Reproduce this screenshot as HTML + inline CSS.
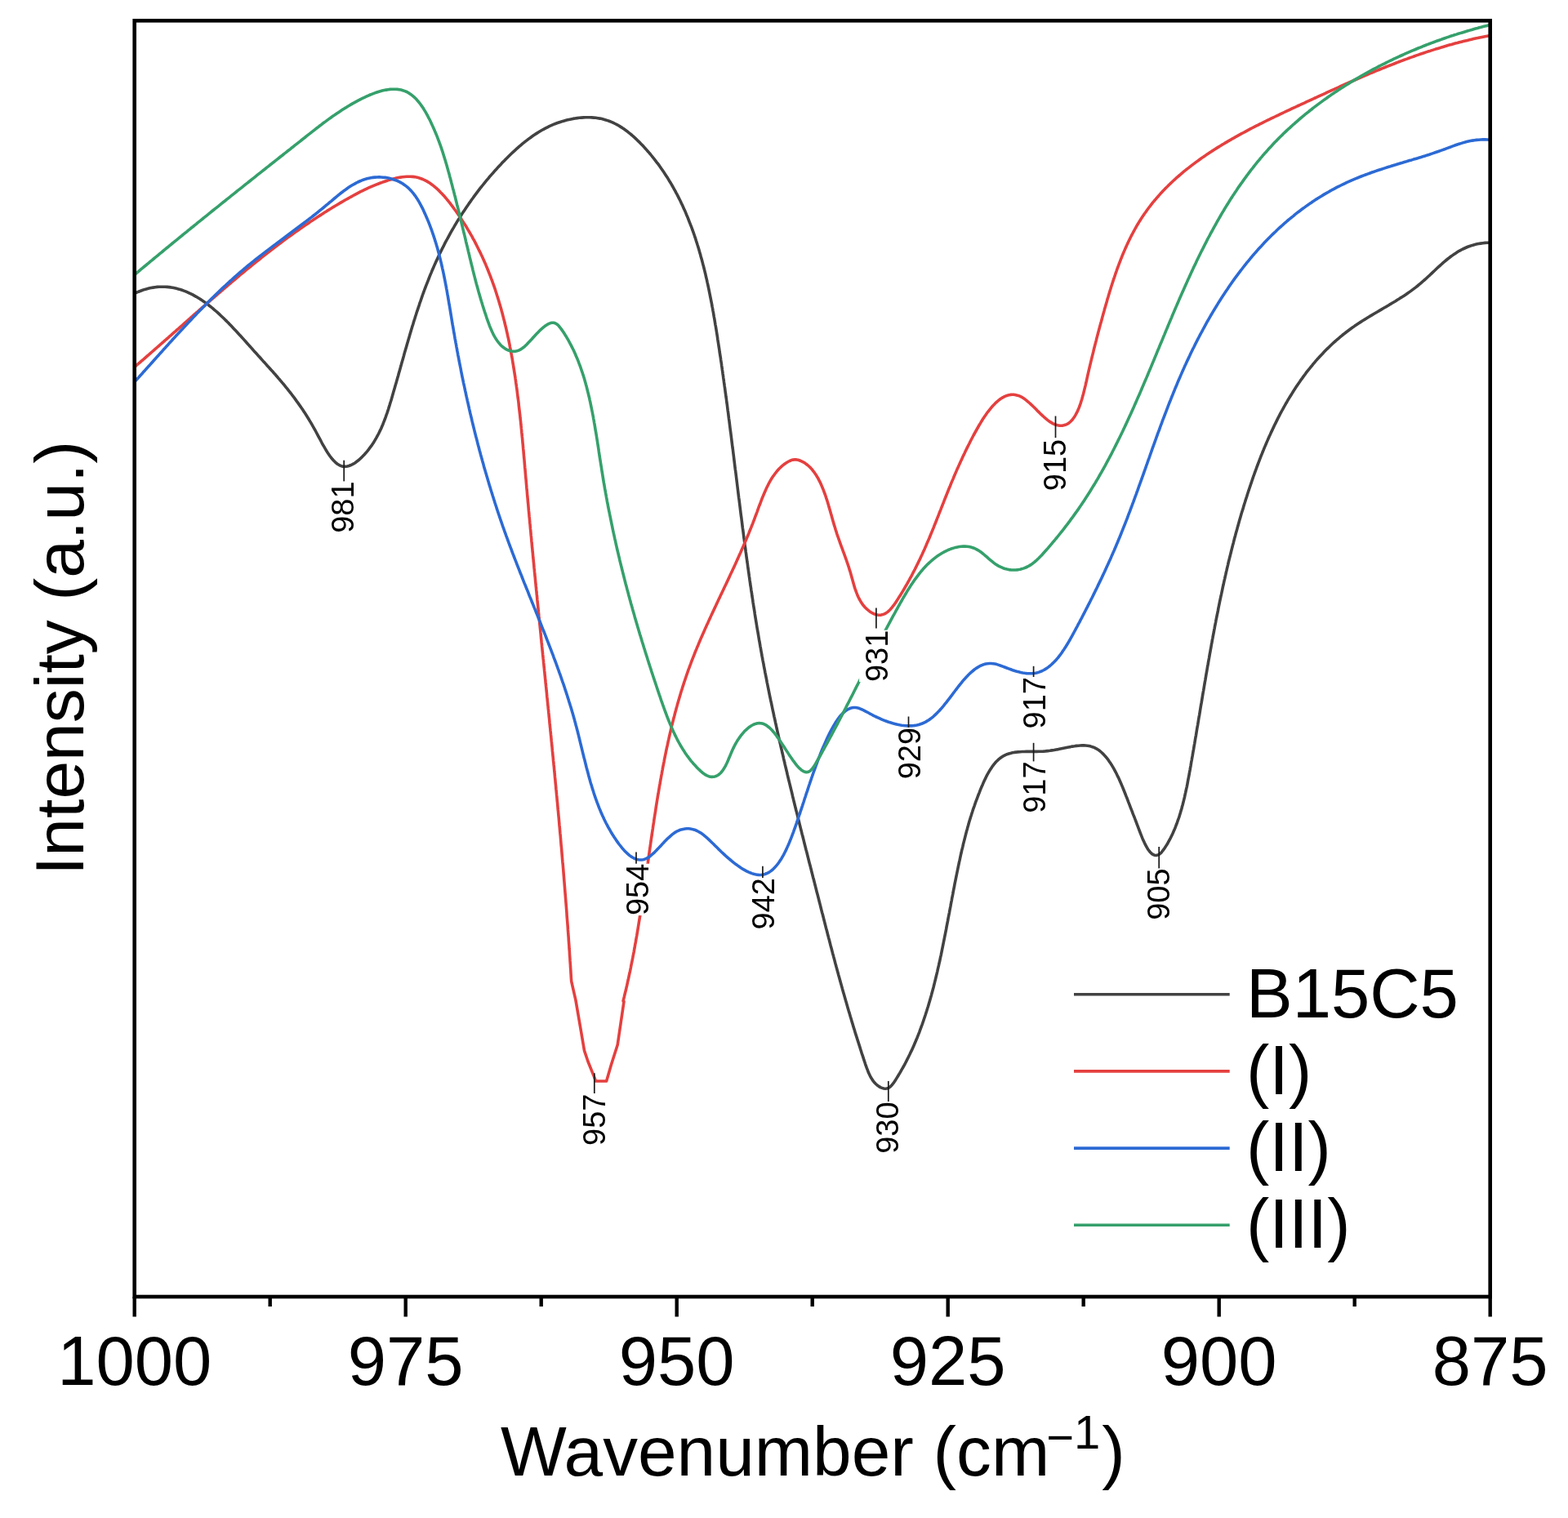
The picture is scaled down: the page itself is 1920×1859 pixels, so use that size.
<!DOCTYPE html>
<html><head><meta charset="utf-8"><title>FTIR spectra</title>
<style>
html,body{margin:0;padding:0;background:#fff;}
body{width:1920px;height:1859px;overflow:hidden;}
svg{display:block;}
#wrap{width:1920px;height:1859px;}
text{font-family:'Liberation Sans', Arial, Helvetica, sans-serif;fill:#000;}
</style></head><body><div id="wrap">
<svg width="1920" height="1859" viewBox="0 0 1920 1859">
<g>
<rect x="0" y="0" width="1920" height="1859" fill="#fff"/>

<defs><clipPath id="pc"><rect x="164.7" y="25.3" width="1660.0" height="1562.7"/></clipPath></defs>
<g clip-path="url(#pc)" fill="none" stroke-linejoin="round" stroke-linecap="round">
<path d="M164.3,359.5 L167.0,358.3 L169.6,357.2 L172.2,356.2 L174.8,355.2 L177.4,354.4 L180.0,353.7 L182.5,353.0 L185.0,352.5 L187.5,352.1 L190.0,351.7 L192.5,351.4 L194.9,351.3 L197.3,351.2 L199.7,351.2 L202.1,351.2 L204.5,351.4 L206.9,351.6 L209.2,351.9 L211.5,352.3 L213.8,352.8 L216.1,353.3 L218.4,353.9 L220.6,354.5 L222.9,355.3 L225.1,356.1 L227.3,356.9 L229.5,357.8 L231.6,358.8 L233.8,359.8 L235.9,360.9 L238.0,362.1 L240.2,363.3 L242.2,364.5 L244.3,365.8 L246.4,367.1 L248.4,368.5 L250.5,369.9 L252.5,371.4 L254.5,372.9 L256.5,374.5 L258.5,376.0 L260.5,377.7 L262.4,379.3 L264.4,381.0 L266.3,382.7 L268.2,384.4 L270.1,386.2 L272.0,388.0 L273.9,389.8 L275.7,391.6 L277.6,393.4 L279.5,395.3 L281.3,397.2 L283.1,399.1 L284.9,401.0 L286.7,402.9 L288.5,404.8 L290.3,406.7 L292.1,408.7 L293.8,410.6 L295.6,412.5 L297.3,414.4 L299.1,416.4 L300.8,418.3 L302.5,420.2 L304.2,422.1 L305.9,424.0 L307.6,425.9 L309.3,427.8 L310.9,429.7 L312.6,431.5 L314.3,433.3 L315.9,435.2 L317.6,437.0 L319.2,438.8 L320.8,440.6 L322.4,442.4 L324.0,444.1 L325.6,445.9 L327.2,447.7 L328.8,449.4 L330.4,451.2 L332.0,453.0 L333.6,454.7 L335.1,456.5 L336.7,458.2 L338.2,460.0 L339.8,461.8 L341.3,463.6 L342.8,465.3 L344.3,467.1 L345.8,468.9 L347.4,470.7 L348.9,472.6 L350.3,474.4 L351.8,476.2 L353.3,478.1 L354.8,480.0 L356.3,481.8 L357.7,483.7 L359.2,485.7 L360.7,487.6 L362.1,489.6 L363.5,491.6 L365.0,493.6 L366.4,495.6 L367.8,497.6 L369.3,499.7 L370.7,501.8 L372.1,504.0 L373.5,506.1 L374.9,508.3 L376.3,510.5 L377.7,512.8 L379.1,515.1 L380.5,517.4 L381.8,519.7 L383.2,522.1 L384.6,524.6 L386.0,527.0 L387.3,529.5 L388.7,532.1 L390.0,534.6 L391.4,537.2 L392.8,539.7 L394.1,542.3 L395.5,544.8 L396.9,547.2 L398.3,549.6 L399.7,552.0 L401.1,554.2 L402.6,556.4 L404.0,558.5 L405.5,560.5 L407.0,562.3 L408.5,564.0 L410.1,565.6 L411.6,567.0 L413.2,568.2 L414.9,569.2 L416.5,570.1 L418.2,570.7 L420.0,571.2 L421.7,571.4 L423.6,571.3 L425.4,571.0 L427.3,570.5 L429.2,569.8 L431.1,568.9 L433.0,567.9 L434.9,566.7 L436.8,565.3 L438.8,563.8 L440.6,562.2 L442.5,560.4 L444.3,558.6 L446.1,556.7 L447.8,554.8 L449.5,552.8 L451.1,550.8 L452.7,548.7 L454.2,546.7 L455.7,544.6 L457.1,542.5 L458.4,540.3 L459.7,538.1 L461.0,535.9 L462.2,533.7 L463.4,531.5 L464.5,529.2 L465.6,526.9 L466.7,524.7 L467.7,522.3 L468.7,520.0 L469.6,517.7 L470.5,515.3 L471.4,513.0 L472.3,510.6 L473.1,508.2 L474.0,505.8 L474.8,503.4 L475.6,501.0 L476.3,498.6 L477.1,496.1 L477.8,493.7 L478.6,491.3 L479.3,488.9 L480.0,486.4 L480.7,484.0 L481.4,481.6 L482.1,479.1 L482.8,476.7 L483.5,474.3 L484.2,471.8 L484.9,469.4 L485.6,467.0 L486.3,464.6 L487.0,462.1 L487.7,459.7 L488.3,457.3 L489.0,454.9 L489.7,452.4 L490.4,450.0 L491.1,447.6 L491.7,445.2 L492.4,442.8 L493.1,440.4 L493.8,437.9 L494.5,435.5 L495.1,433.1 L495.8,430.7 L496.5,428.3 L497.2,425.9 L497.9,423.5 L498.6,421.1 L499.3,418.7 L500.0,416.3 L500.7,413.9 L501.4,411.5 L502.1,409.1 L502.8,406.7 L503.5,404.3 L504.2,402.0 L504.9,399.6 L505.7,397.2 L506.4,394.8 L507.1,392.5 L507.9,390.1 L508.6,387.7 L509.4,385.3 L510.1,383.0 L510.9,380.6 L511.7,378.3 L512.5,375.9 L513.3,373.6 L514.0,371.2 L514.9,368.9 L515.7,366.5 L516.5,364.2 L517.3,361.8 L518.1,359.5 L519.0,357.2 L519.8,354.8 L520.7,352.5 L521.6,350.2 L522.5,347.9 L523.4,345.6 L524.3,343.3 L525.2,341.0 L526.1,338.7 L527.0,336.4 L528.0,334.1 L528.9,331.8 L529.9,329.5 L530.9,327.2 L531.9,324.9 L532.9,322.7 L533.9,320.4 L535.0,318.1 L536.0,315.9 L537.1,313.6 L538.1,311.3 L539.2,309.1 L540.3,306.9 L541.4,304.6 L542.6,302.4 L543.7,300.2 L544.8,297.9 L546.0,295.7 L547.2,293.5 L548.4,291.3 L549.6,289.1 L550.8,286.9 L552.0,284.7 L553.2,282.5 L554.5,280.4 L555.8,278.2 L557.0,276.0 L558.3,273.9 L559.6,271.7 L560.9,269.6 L562.3,267.5 L563.6,265.3 L564.9,263.2 L566.3,261.1 L567.7,259.0 L569.1,256.9 L570.5,254.8 L571.9,252.7 L573.3,250.7 L574.7,248.6 L576.2,246.6 L577.6,244.5 L579.1,242.5 L580.6,240.4 L582.1,238.4 L583.6,236.4 L585.1,234.4 L586.6,232.4 L588.1,230.4 L589.7,228.5 L591.3,226.5 L592.8,224.6 L594.4,222.6 L596.0,220.7 L597.6,218.8 L599.2,216.8 L600.9,214.9 L602.5,213.1 L604.2,211.2 L605.8,209.3 L607.5,207.5 L609.2,205.6 L610.9,203.8 L612.6,202.0 L614.3,200.1 L616.0,198.3 L617.8,196.6 L619.5,194.8 L621.3,193.0 L623.0,191.3 L624.8,189.5 L626.6,187.8 L628.4,186.1 L630.3,184.4 L632.1,182.7 L633.9,181.1 L635.8,179.4 L637.7,177.8 L639.6,176.2 L641.5,174.7 L643.4,173.1 L645.4,171.6 L647.3,170.1 L649.3,168.7 L651.3,167.2 L653.3,165.8 L655.4,164.4 L657.5,163.1 L659.6,161.8 L661.7,160.5 L663.8,159.3 L666.0,158.1 L668.2,156.9 L670.4,155.8 L672.6,154.7 L674.9,153.7 L677.2,152.7 L679.5,151.7 L681.9,150.8 L684.2,150.0 L686.6,149.2 L689.1,148.4 L691.6,147.7 L694.0,147.0 L696.5,146.4 L699.1,145.9 L701.6,145.4 L704.2,145.0 L706.7,144.6 L709.3,144.3 L711.8,144.1 L714.4,143.9 L717.0,143.8 L719.5,143.7 L722.1,143.8 L724.6,143.9 L727.1,144.1 L729.6,144.3 L732.1,144.7 L734.6,145.1 L737.0,145.6 L739.4,146.2 L741.8,146.9 L744.1,147.6 L746.4,148.5 L748.7,149.4 L751.0,150.4 L753.2,151.5 L755.4,152.6 L757.5,153.8 L759.6,155.1 L761.7,156.4 L763.8,157.8 L765.8,159.3 L767.8,160.7 L769.8,162.3 L771.8,163.9 L773.7,165.5 L775.6,167.2 L777.5,168.9 L779.3,170.6 L781.1,172.4 L782.9,174.1 L784.7,176.0 L786.5,177.8 L788.2,179.6 L789.9,181.5 L791.6,183.4 L793.2,185.2 L794.9,187.1 L796.5,189.0 L798.1,191.0 L799.6,192.9 L801.2,194.8 L802.7,196.8 L804.2,198.8 L805.7,200.7 L807.2,202.7 L808.6,204.7 L810.0,206.8 L811.4,208.8 L812.8,210.8 L814.2,212.9 L815.5,214.9 L816.9,217.0 L818.2,219.1 L819.4,221.2 L820.7,223.3 L822.0,225.4 L823.2,227.5 L824.4,229.6 L825.6,231.8 L826.8,233.9 L827.9,236.1 L829.1,238.2 L830.2,240.4 L831.3,242.6 L832.4,244.8 L833.5,247.0 L834.5,249.2 L835.6,251.4 L836.6,253.7 L837.6,255.9 L838.6,258.1 L839.6,260.4 L840.5,262.7 L841.5,264.9 L842.4,267.2 L843.3,269.5 L844.2,271.8 L845.1,274.1 L846.0,276.4 L846.9,278.7 L847.7,281.0 L848.6,283.4 L849.4,285.7 L850.2,288.0 L851.0,290.4 L851.8,292.7 L852.5,295.1 L853.3,297.5 L854.0,299.8 L854.8,302.2 L855.5,304.6 L856.2,307.0 L856.9,309.4 L857.6,311.8 L858.2,314.2 L858.9,316.6 L859.6,319.0 L860.2,321.4 L860.8,323.8 L861.5,326.3 L862.1,328.7 L862.7,331.1 L863.3,333.6 L863.9,336.0 L864.4,338.5 L865.0,340.9 L865.6,343.4 L866.1,345.8 L866.7,348.3 L867.2,350.8 L867.7,353.2 L868.2,355.7 L868.7,358.2 L869.2,360.6 L869.7,363.1 L870.2,365.6 L870.7,368.1 L871.2,370.6 L871.7,373.1 L872.1,375.6 L872.6,378.0 L873.0,380.5 L873.5,383.0 L873.9,385.5 L874.3,388.0 L874.8,390.5 L875.2,393.0 L875.6,395.5 L876.0,398.0 L876.5,400.5 L876.9,403.0 L877.3,405.5 L877.7,408.0 L878.1,410.5 L878.5,413.0 L878.8,415.5 L879.2,418.0 L879.6,420.6 L880.0,423.1 L880.4,425.6 L880.8,428.1 L881.1,430.6 L881.5,433.1 L881.9,435.6 L882.3,438.0 L882.6,440.5 L883.0,443.0 L883.4,445.5 L883.7,448.0 L884.1,450.5 L884.4,453.0 L884.8,455.5 L885.1,458.0 L885.5,460.5 L885.8,463.0 L886.2,465.5 L886.5,468.0 L886.9,470.5 L887.2,473.0 L887.6,475.5 L887.9,477.9 L888.2,480.4 L888.6,482.9 L888.9,485.4 L889.3,487.9 L889.6,490.4 L889.9,492.9 L890.3,495.3 L890.6,497.8 L890.9,500.3 L891.2,502.8 L891.6,505.3 L891.9,507.8 L892.2,510.3 L892.5,512.7 L892.9,515.2 L893.2,517.7 L893.5,520.2 L893.8,522.7 L894.1,525.1 L894.4,527.6 L894.8,530.1 L895.1,532.6 L895.4,535.1 L895.7,537.5 L896.0,540.0 L896.3,542.5 L896.6,545.0 L896.9,547.4 L897.3,549.9 L897.6,552.4 L897.9,554.9 L898.2,557.3 L898.5,559.8 L898.8,562.3 L899.1,564.8 L899.4,567.2 L899.7,569.7 L900.0,572.2 L900.3,574.7 L900.7,577.1 L901.0,579.6 L901.3,582.1 L901.6,584.5 L901.9,587.0 L902.2,589.5 L902.5,591.9 L902.8,594.4 L903.1,596.9 L903.4,599.4 L903.7,601.8 L904.0,604.3 L904.3,606.8 L904.6,609.2 L905.0,611.7 L905.3,614.2 L905.6,616.6 L905.9,619.1 L906.2,621.6 L906.5,624.0 L906.8,626.5 L907.1,629.0 L907.4,631.4 L907.8,633.9 L908.1,636.4 L908.4,638.8 L908.7,641.3 L909.0,643.7 L909.3,646.2 L909.7,648.7 L910.0,651.1 L910.3,653.6 L910.6,656.1 L910.9,658.5 L911.3,661.0 L911.6,663.4 L911.9,665.9 L912.2,668.4 L912.6,670.8 L912.9,673.3 L913.2,675.8 L913.6,678.2 L913.9,680.7 L914.2,683.1 L914.6,685.6 L914.9,688.1 L915.3,690.5 L915.6,693.0 L915.9,695.4 L916.3,697.9 L916.6,700.4 L917.0,702.8 L917.3,705.3 L917.7,707.7 L918.0,710.2 L918.4,712.7 L918.7,715.1 L919.1,717.6 L919.5,720.0 L919.8,722.5 L920.2,724.9 L920.6,727.4 L920.9,729.9 L921.3,732.3 L921.7,734.8 L922.0,737.2 L922.4,739.7 L922.8,742.2 L923.2,744.6 L923.6,747.1 L924.0,749.5 L924.3,752.0 L924.7,754.4 L925.1,756.9 L925.5,759.4 L925.9,761.8 L926.3,764.3 L926.7,766.7 L927.1,769.2 L927.5,771.7 L928.0,774.1 L928.4,776.6 L928.8,779.0 L929.2,781.5 L929.6,783.9 L930.1,786.4 L930.5,788.9 L930.9,791.3 L931.4,793.8 L931.8,796.2 L932.2,798.7 L932.7,801.1 L933.1,803.6 L933.6,806.1 L934.0,808.5 L934.5,811.0 L935.0,813.4 L935.4,815.9 L935.9,818.4 L936.4,820.8 L936.8,823.3 L937.3,825.7 L937.8,828.2 L938.3,830.6 L938.8,833.1 L939.2,835.6 L939.7,838.0 L940.2,840.5 L940.7,842.9 L941.2,845.4 L941.7,847.8 L942.2,850.3 L942.7,852.8 L943.2,855.2 L943.7,857.7 L944.3,860.1 L944.8,862.6 L945.3,865.0 L945.8,867.5 L946.3,870.0 L946.9,872.4 L947.4,874.9 L947.9,877.3 L948.5,879.8 L949.0,882.2 L949.5,884.7 L950.1,887.1 L950.6,889.6 L951.1,892.0 L951.7,894.5 L952.2,897.0 L952.8,899.4 L953.3,901.9 L953.9,904.3 L954.4,906.8 L955.0,909.2 L955.6,911.7 L956.1,914.1 L956.7,916.6 L957.3,919.0 L957.8,921.5 L958.4,923.9 L959.0,926.4 L959.5,928.8 L960.1,931.3 L960.7,933.7 L961.2,936.1 L961.8,938.6 L962.4,941.0 L963.0,943.5 L963.6,945.9 L964.1,948.4 L964.7,950.8 L965.3,953.3 L965.9,955.7 L966.5,958.1 L967.1,960.6 L967.7,963.0 L968.3,965.5 L968.9,967.9 L969.5,970.3 L970.1,972.8 L970.6,975.2 L971.2,977.6 L971.8,980.1 L972.4,982.5 L973.0,985.0 L973.6,987.4 L974.2,989.8 L974.8,992.2 L975.5,994.7 L976.1,997.1 L976.7,999.5 L977.3,1002.0 L977.9,1004.4 L978.5,1006.8 L979.1,1009.3 L979.7,1011.7 L980.3,1014.1 L980.9,1016.5 L981.5,1018.9 L982.1,1021.4 L982.8,1023.8 L983.4,1026.2 L984.0,1028.6 L984.6,1031.1 L985.2,1033.5 L985.8,1035.9 L986.4,1038.3 L987.0,1040.7 L987.7,1043.1 L988.3,1045.5 L988.9,1048.0 L989.5,1050.4 L990.1,1052.8 L990.7,1055.2 L991.3,1057.6 L992.0,1060.0 L992.6,1062.4 L993.2,1064.8 L993.8,1067.2 L994.4,1069.6 L995.0,1072.0 L995.6,1074.4 L996.3,1076.8 L996.9,1079.2 L997.5,1081.6 L998.1,1084.0 L998.7,1086.4 L999.3,1088.8 L999.9,1091.2 L1000.5,1093.6 L1001.2,1096.0 L1001.8,1098.4 L1002.4,1100.8 L1003.0,1103.2 L1003.6,1105.5 L1004.2,1107.9 L1004.8,1110.3 L1005.4,1112.7 L1006.0,1115.1 L1006.6,1117.5 L1007.3,1119.8 L1007.9,1122.2 L1008.5,1124.6 L1009.1,1127.0 L1009.7,1129.4 L1010.3,1131.8 L1010.9,1134.1 L1011.5,1136.5 L1012.2,1138.9 L1012.8,1141.3 L1013.4,1143.7 L1014.0,1146.0 L1014.6,1148.4 L1015.3,1150.8 L1015.9,1153.2 L1016.5,1155.6 L1017.1,1158.0 L1017.8,1160.4 L1018.4,1162.7 L1019.0,1165.1 L1019.6,1167.5 L1020.3,1169.9 L1020.9,1172.3 L1021.6,1174.7 L1022.2,1177.1 L1022.8,1179.5 L1023.5,1181.9 L1024.1,1184.3 L1024.8,1186.7 L1025.4,1189.1 L1026.1,1191.5 L1026.7,1193.9 L1027.4,1196.3 L1028.1,1198.7 L1028.7,1201.1 L1029.4,1203.6 L1030.1,1206.0 L1030.8,1208.4 L1031.4,1210.8 L1032.1,1213.2 L1032.8,1215.7 L1033.5,1218.1 L1034.2,1220.5 L1034.9,1223.0 L1035.6,1225.4 L1036.3,1227.8 L1037.0,1230.3 L1037.7,1232.7 L1038.4,1235.2 L1039.1,1237.6 L1039.9,1240.1 L1040.6,1242.6 L1041.3,1245.0 L1042.1,1247.5 L1042.8,1250.0 L1043.5,1252.4 L1044.3,1254.9 L1045.0,1257.4 L1045.8,1259.9 L1046.6,1262.4 L1047.3,1264.9 L1048.1,1267.4 L1048.9,1269.9 L1049.7,1272.4 L1050.5,1274.9 L1051.3,1277.4 L1052.1,1279.9 L1052.9,1282.4 L1053.7,1285.0 L1054.5,1287.5 L1055.3,1290.1 L1056.2,1292.6 L1057.0,1295.1 L1057.8,1297.7 L1058.7,1300.3 L1059.5,1302.8 L1060.4,1305.4 L1061.3,1307.9 L1062.3,1310.4 L1063.2,1312.9 L1064.3,1315.2 L1065.4,1317.6 L1066.6,1319.8 L1067.9,1321.9 L1069.3,1323.9 L1070.8,1325.8 L1072.5,1327.5 L1074.2,1329.0 L1076.1,1330.4 L1078.1,1331.6 L1080.1,1332.4 L1082.1,1333.0 L1084.0,1333.2 L1085.9,1333.0 L1087.7,1332.4 L1089.4,1331.4 L1090.9,1330.1 L1092.4,1328.5 L1093.8,1326.7 L1095.2,1324.7 L1096.5,1322.7 L1097.8,1320.6 L1099.1,1318.6 L1100.3,1316.5 L1101.6,1314.4 L1102.8,1312.3 L1104.0,1310.2 L1105.2,1308.1 L1106.4,1306.0 L1107.6,1303.9 L1108.7,1301.7 L1109.8,1299.6 L1110.9,1297.4 L1112.0,1295.2 L1113.1,1293.0 L1114.2,1290.8 L1115.2,1288.6 L1116.3,1286.4 L1117.3,1284.2 L1118.3,1282.0 L1119.3,1279.7 L1120.2,1277.5 L1121.2,1275.2 L1122.1,1273.0 L1123.1,1270.7 L1124.0,1268.4 L1124.9,1266.1 L1125.8,1263.8 L1126.6,1261.5 L1127.5,1259.2 L1128.3,1256.9 L1129.2,1254.6 L1130.0,1252.2 L1130.8,1249.9 L1131.6,1247.5 L1132.4,1245.2 L1133.2,1242.8 L1133.9,1240.5 L1134.7,1238.1 L1135.4,1235.7 L1136.2,1233.3 L1136.9,1231.0 L1137.6,1228.6 L1138.3,1226.2 L1139.0,1223.8 L1139.7,1221.3 L1140.4,1218.9 L1141.0,1216.5 L1141.7,1214.1 L1142.3,1211.7 L1143.0,1209.2 L1143.6,1206.8 L1144.2,1204.3 L1144.8,1201.9 L1145.4,1199.5 L1146.0,1197.0 L1146.6,1194.5 L1147.2,1192.1 L1147.8,1189.6 L1148.3,1187.2 L1148.9,1184.7 L1149.5,1182.2 L1150.0,1179.7 L1150.6,1177.3 L1151.1,1174.8 L1151.6,1172.3 L1152.2,1169.8 L1152.7,1167.3 L1153.2,1164.8 L1153.7,1162.4 L1154.2,1159.9 L1154.7,1157.4 L1155.2,1154.9 L1155.7,1152.4 L1156.2,1149.9 L1156.7,1147.4 L1157.2,1144.9 L1157.7,1142.4 L1158.2,1139.9 L1158.7,1137.4 L1159.1,1134.9 L1159.6,1132.4 L1160.1,1129.9 L1160.6,1127.4 L1161.0,1124.9 L1161.5,1122.4 L1162.0,1119.9 L1162.5,1117.5 L1162.9,1115.0 L1163.4,1112.5 L1163.9,1110.0 L1164.3,1107.5 L1164.8,1105.0 L1165.3,1102.5 L1165.7,1100.0 L1166.2,1097.6 L1166.7,1095.1 L1167.1,1092.6 L1167.6,1090.1 L1168.1,1087.7 L1168.6,1085.2 L1169.0,1082.7 L1169.5,1080.3 L1170.0,1077.8 L1170.5,1075.4 L1171.0,1072.9 L1171.5,1070.5 L1172.0,1068.0 L1172.5,1065.6 L1173.0,1063.1 L1173.5,1060.7 L1174.0,1058.3 L1174.5,1055.9 L1175.1,1053.4 L1175.6,1051.0 L1176.1,1048.6 L1176.6,1046.2 L1177.2,1043.8 L1177.7,1041.4 L1178.3,1039.1 L1178.9,1036.7 L1179.4,1034.3 L1180.0,1031.9 L1180.6,1029.6 L1181.2,1027.2 L1181.8,1024.9 L1182.4,1022.5 L1183.0,1020.1 L1183.6,1017.8 L1184.3,1015.5 L1184.9,1013.1 L1185.6,1010.8 L1186.2,1008.4 L1186.9,1006.1 L1187.6,1003.7 L1188.3,1001.4 L1189.1,999.0 L1189.8,996.7 L1190.6,994.3 L1191.3,992.0 L1192.1,989.6 L1193.0,987.3 L1193.8,984.9 L1194.6,982.5 L1195.5,980.2 L1196.4,977.8 L1197.3,975.4 L1198.2,973.0 L1199.2,970.6 L1200.1,968.2 L1201.1,965.7 L1202.1,963.3 L1203.2,960.9 L1204.2,958.4 L1205.3,956.0 L1206.5,953.6 L1207.6,951.3 L1208.8,948.9 L1210.1,946.7 L1211.4,944.4 L1212.7,942.3 L1214.1,940.2 L1215.5,938.1 L1217.0,936.2 L1218.5,934.3 L1220.1,932.6 L1221.8,930.9 L1223.5,929.4 L1225.3,928.0 L1227.1,926.7 L1229.0,925.6 L1231.0,924.6 L1233.1,923.7 L1235.2,923.0 L1237.4,922.4 L1239.7,921.8 L1242.0,921.4 L1244.3,921.1 L1246.7,920.9 L1249.1,920.7 L1251.6,920.5 L1254.1,920.5 L1256.7,920.4 L1259.2,920.4 L1261.8,920.4 L1264.4,920.4 L1267.1,920.4 L1269.7,920.4 L1272.4,920.3 L1275.0,920.2 L1277.7,920.1 L1280.3,919.9 L1282.9,919.6 L1285.6,919.3 L1288.2,918.9 L1290.8,918.5 L1293.4,918.0 L1295.9,917.6 L1298.5,917.0 L1301.0,916.5 L1303.5,916.0 L1306.0,915.5 L1308.5,915.0 L1310.9,914.6 L1313.3,914.1 L1315.7,913.8 L1318.1,913.4 L1320.4,913.2 L1322.7,913.0 L1324.9,912.9 L1327.2,912.9 L1329.4,913.0 L1331.5,913.2 L1333.6,913.6 L1335.7,914.1 L1337.7,914.7 L1339.7,915.4 L1341.6,916.4 L1343.5,917.4 L1345.4,918.6 L1347.2,920.0 L1348.9,921.5 L1350.6,923.1 L1352.3,924.9 L1353.9,926.7 L1355.5,928.7 L1357.1,930.7 L1358.6,932.9 L1360.1,935.1 L1361.5,937.3 L1362.9,939.7 L1364.3,942.1 L1365.6,944.6 L1366.9,947.0 L1368.1,949.6 L1369.4,952.1 L1370.6,954.7 L1371.7,957.3 L1372.8,959.8 L1373.9,962.4 L1375.0,965.0 L1376.0,967.5 L1377.0,970.0 L1378.0,972.5 L1378.9,974.9 L1379.9,977.3 L1380.8,979.6 L1381.6,981.9 L1382.5,984.1 L1383.3,986.2 L1384.1,988.3 L1384.9,990.3 L1385.7,992.3 L1386.5,994.3 L1387.2,996.3 L1388.0,998.4 L1388.9,1000.5 L1389.7,1002.7 L1390.6,1005.0 L1391.5,1007.3 L1392.4,1009.8 L1393.4,1012.4 L1394.4,1015.1 L1395.5,1018.0 L1396.6,1020.9 L1397.8,1023.9 L1399.0,1026.9 L1400.3,1029.8 L1401.6,1032.6 L1403.0,1035.3 L1404.4,1037.9 L1405.8,1040.2 L1407.3,1042.3 L1408.8,1044.0 L1410.3,1045.4 L1411.9,1046.5 L1413.5,1047.2 L1415.1,1047.5 L1416.7,1047.4 L1418.2,1046.9 L1419.7,1046.0 L1421.1,1044.9 L1422.5,1043.4 L1423.9,1041.7 L1425.2,1039.9 L1426.5,1038.0 L1427.7,1036.1 L1428.9,1034.2 L1430.1,1032.2 L1431.2,1030.2 L1432.3,1028.1 L1433.4,1026.1 L1434.4,1024.0 L1435.4,1021.9 L1436.4,1019.8 L1437.3,1017.6 L1438.3,1015.4 L1439.2,1013.2 L1440.0,1011.0 L1440.9,1008.8 L1441.7,1006.5 L1442.5,1004.2 L1443.3,1002.0 L1444.1,999.6 L1444.8,997.3 L1445.5,995.0 L1446.2,992.6 L1446.9,990.2 L1447.5,987.8 L1448.2,985.4 L1448.8,983.0 L1449.4,980.6 L1450.0,978.1 L1450.6,975.7 L1451.1,973.2 L1451.7,970.7 L1452.2,968.2 L1452.7,965.8 L1453.3,963.3 L1453.8,960.8 L1454.3,958.2 L1454.7,955.7 L1455.2,953.2 L1455.7,950.7 L1456.2,948.2 L1456.6,945.6 L1457.1,943.1 L1457.5,940.6 L1458.0,938.1 L1458.4,935.5 L1458.8,933.0 L1459.3,930.5 L1459.7,928.0 L1460.2,925.4 L1460.6,922.9 L1461.0,920.4 L1461.5,917.9 L1461.9,915.4 L1462.3,912.8 L1462.8,910.3 L1463.2,907.8 L1463.6,905.3 L1464.0,902.8 L1464.5,900.3 L1464.9,897.8 L1465.3,895.3 L1465.7,892.8 L1466.1,890.3 L1466.6,887.8 L1467.0,885.3 L1467.4,882.8 L1467.8,880.3 L1468.2,877.8 L1468.7,875.3 L1469.1,872.8 L1469.5,870.3 L1469.9,867.8 L1470.3,865.3 L1470.7,862.9 L1471.2,860.4 L1471.6,857.9 L1472.0,855.4 L1472.4,852.9 L1472.8,850.4 L1473.2,848.0 L1473.7,845.5 L1474.1,843.0 L1474.5,840.5 L1474.9,838.1 L1475.3,835.6 L1475.8,833.1 L1476.2,830.6 L1476.6,828.2 L1477.0,825.7 L1477.5,823.2 L1477.9,820.8 L1478.3,818.3 L1478.7,815.9 L1479.2,813.4 L1479.6,810.9 L1480.0,808.5 L1480.5,806.0 L1480.9,803.6 L1481.3,801.1 L1481.8,798.7 L1482.2,796.2 L1482.7,793.7 L1483.1,791.3 L1483.5,788.8 L1484.0,786.4 L1484.4,783.9 L1484.9,781.5 L1485.3,779.1 L1485.8,776.6 L1486.3,774.2 L1486.7,771.7 L1487.2,769.3 L1487.6,766.8 L1488.1,764.4 L1488.6,762.0 L1489.0,759.5 L1489.5,757.1 L1490.0,754.7 L1490.5,752.2 L1491.0,749.8 L1491.5,747.4 L1491.9,744.9 L1492.4,742.5 L1492.9,740.1 L1493.4,737.6 L1493.9,735.2 L1494.4,732.8 L1494.9,730.4 L1495.5,727.9 L1496.0,725.5 L1496.5,723.1 L1497.0,720.7 L1497.5,718.2 L1498.1,715.8 L1498.6,713.4 L1499.1,711.0 L1499.7,708.6 L1500.2,706.1 L1500.8,703.7 L1501.3,701.3 L1501.9,698.9 L1502.4,696.5 L1503.0,694.1 L1503.6,691.6 L1504.1,689.2 L1504.7,686.8 L1505.3,684.4 L1505.9,682.0 L1506.5,679.6 L1507.1,677.2 L1507.7,674.8 L1508.3,672.4 L1508.9,670.0 L1509.5,667.6 L1510.2,665.2 L1510.8,662.7 L1511.4,660.3 L1512.0,657.9 L1512.7,655.5 L1513.3,653.1 L1514.0,650.7 L1514.7,648.3 L1515.3,645.9 L1516.0,643.5 L1516.7,641.1 L1517.3,638.7 L1518.0,636.3 L1518.7,633.9 L1519.4,631.5 L1520.1,629.1 L1520.8,626.8 L1521.6,624.4 L1522.3,622.0 L1523.0,619.6 L1523.7,617.2 L1524.5,614.8 L1525.2,612.4 L1526.0,610.0 L1526.8,607.6 L1527.5,605.2 L1528.3,602.8 L1529.1,600.4 L1529.9,598.0 L1530.7,595.7 L1531.5,593.3 L1532.3,590.9 L1533.1,588.5 L1533.9,586.1 L1534.7,583.7 L1535.6,581.4 L1536.4,579.0 L1537.3,576.6 L1538.2,574.2 L1539.0,571.9 L1539.9,569.5 L1540.8,567.1 L1541.7,564.8 L1542.6,562.4 L1543.5,560.1 L1544.4,557.7 L1545.4,555.4 L1546.3,553.0 L1547.3,550.7 L1548.2,548.4 L1549.2,546.1 L1550.2,543.7 L1551.2,541.4 L1552.2,539.1 L1553.2,536.8 L1554.2,534.5 L1555.3,532.2 L1556.3,529.9 L1557.4,527.6 L1558.4,525.4 L1559.5,523.1 L1560.6,520.8 L1561.7,518.6 L1562.8,516.4 L1563.9,514.1 L1565.0,511.9 L1566.2,509.7 L1567.3,507.4 L1568.5,505.2 L1569.7,503.0 L1570.9,500.9 L1572.1,498.7 L1573.3,496.5 L1574.5,494.3 L1575.8,492.2 L1577.0,490.0 L1578.3,487.9 L1579.6,485.8 L1580.9,483.7 L1582.2,481.6 L1583.5,479.5 L1584.8,477.4 L1586.2,475.3 L1587.5,473.3 L1588.9,471.2 L1590.3,469.2 L1591.7,467.2 L1593.1,465.1 L1594.6,463.1 L1596.0,461.1 L1597.5,459.2 L1598.9,457.2 L1600.4,455.2 L1601.9,453.3 L1603.5,451.4 L1605.0,449.5 L1606.6,447.6 L1608.1,445.7 L1609.7,443.8 L1611.3,441.9 L1612.9,440.1 L1614.6,438.3 L1616.2,436.5 L1617.9,434.7 L1619.6,432.9 L1621.3,431.1 L1623.0,429.3 L1624.7,427.6 L1626.5,425.9 L1628.2,424.2 L1630.0,422.5 L1631.8,420.8 L1633.6,419.1 L1635.5,417.5 L1637.3,415.9 L1639.2,414.3 L1641.1,412.7 L1643.0,411.1 L1644.9,409.5 L1646.9,408.0 L1648.8,406.5 L1650.8,405.0 L1652.8,403.5 L1654.8,402.0 L1656.9,400.6 L1658.9,399.1 L1661.0,397.7 L1663.1,396.3 L1665.2,394.9 L1667.3,393.6 L1669.4,392.2 L1671.6,390.9 L1673.8,389.5 L1675.9,388.2 L1678.1,386.9 L1680.3,385.6 L1682.5,384.3 L1684.7,383.0 L1686.9,381.7 L1689.1,380.4 L1691.3,379.1 L1693.5,377.8 L1695.7,376.5 L1697.9,375.3 L1700.1,374.0 L1702.3,372.6 L1704.5,371.3 L1706.7,370.0 L1708.9,368.7 L1711.0,367.3 L1713.2,366.0 L1715.3,364.6 L1717.5,363.3 L1719.6,361.9 L1721.7,360.5 L1723.8,359.0 L1725.8,357.6 L1727.9,356.1 L1729.9,354.6 L1731.9,353.1 L1733.9,351.6 L1735.9,350.0 L1737.8,348.4 L1739.7,346.8 L1741.6,345.2 L1743.5,343.5 L1745.4,341.9 L1747.2,340.2 L1749.0,338.5 L1750.9,336.8 L1752.7,335.1 L1754.5,333.4 L1756.3,331.7 L1758.1,330.0 L1759.9,328.3 L1761.7,326.6 L1763.6,325.0 L1765.4,323.3 L1767.2,321.7 L1769.1,320.1 L1771.0,318.5 L1772.8,317.0 L1774.8,315.5 L1776.7,314.0 L1778.7,312.6 L1780.7,311.2 L1782.7,309.9 L1784.7,308.6 L1786.8,307.3 L1789.0,306.2 L1791.2,305.0 L1793.4,304.0 L1795.6,303.0 L1797.9,302.0 L1800.3,301.2 L1802.7,300.4 L1805.2,299.7 L1807.7,299.1 L1810.3,298.5 L1813.0,298.1 L1815.7,297.7 L1818.5,297.4 L1821.3,297.3 L1824.2,297.2" stroke="#424242" stroke-width="3.6"/>
<path d="M165.5,448.8 L167.4,447.1 L169.4,445.4 L171.3,443.8 L173.2,442.1 L175.2,440.5 L177.1,438.8 L179.0,437.1 L180.9,435.5 L182.8,433.8 L184.7,432.2 L186.6,430.5 L188.5,428.8 L190.4,427.2 L192.3,425.5 L194.2,423.8 L196.1,422.2 L198.0,420.5 L199.9,418.9 L201.8,417.2 L203.7,415.5 L205.6,413.9 L207.4,412.2 L209.3,410.6 L211.2,408.9 L213.1,407.2 L215.0,405.6 L216.8,403.9 L218.7,402.3 L220.6,400.6 L222.4,399.0 L224.3,397.3 L226.2,395.6 L228.0,394.0 L229.9,392.3 L231.8,390.7 L233.6,389.0 L235.5,387.4 L237.4,385.7 L239.2,384.1 L241.1,382.5 L243.0,380.8 L244.8,379.2 L246.7,377.5 L248.6,375.9 L250.4,374.3 L252.3,372.6 L254.1,371.0 L256.0,369.4 L257.9,367.7 L259.7,366.1 L261.6,364.5 L263.5,362.9 L265.3,361.3 L267.2,359.6 L269.1,358.0 L271.0,356.4 L272.8,354.8 L274.7,353.2 L276.6,351.6 L278.5,350.0 L280.3,348.4 L282.2,346.8 L284.1,345.2 L286.0,343.6 L287.9,342.0 L289.8,340.4 L291.7,338.8 L293.5,337.2 L295.4,335.7 L297.3,334.1 L299.2,332.5 L301.1,330.9 L303.0,329.4 L305.0,327.8 L306.9,326.3 L308.8,324.7 L310.7,323.1 L312.6,321.6 L314.5,320.0 L316.5,318.5 L318.4,317.0 L320.3,315.4 L322.3,313.9 L324.2,312.4 L326.2,310.8 L328.1,309.3 L330.1,307.8 L332.0,306.3 L334.0,304.8 L335.9,303.3 L337.9,301.8 L339.9,300.3 L341.9,298.8 L343.9,297.3 L345.8,295.8 L347.8,294.4 L349.8,292.9 L351.8,291.4 L353.8,289.9 L355.9,288.5 L357.9,287.0 L359.9,285.6 L361.9,284.1 L364.0,282.7 L366.0,281.3 L368.0,279.8 L370.1,278.4 L372.1,277.0 L374.2,275.6 L376.3,274.2 L378.4,272.7 L380.4,271.3 L382.5,270.0 L384.6,268.6 L386.7,267.2 L388.8,265.8 L390.9,264.4 L393.1,263.1 L395.2,261.7 L397.3,260.3 L399.5,259.0 L401.6,257.6 L403.8,256.3 L405.9,255.0 L408.1,253.6 L410.3,252.3 L412.5,251.0 L414.6,249.7 L416.8,248.4 L419.1,247.1 L421.3,245.8 L423.5,244.5 L425.7,243.3 L428.0,242.0 L430.2,240.8 L432.5,239.5 L434.7,238.3 L437.0,237.1 L439.3,235.9 L441.6,234.7 L443.9,233.6 L446.3,232.4 L448.6,231.3 L451.0,230.2 L453.3,229.2 L455.7,228.1 L458.1,227.1 L460.5,226.1 L462.9,225.2 L465.3,224.3 L467.8,223.4 L470.3,222.5 L472.7,221.7 L475.2,220.9 L477.7,220.1 L480.3,219.4 L482.8,218.7 L485.3,218.1 L487.9,217.6 L490.4,217.1 L492.9,216.8 L495.4,216.5 L497.9,216.3 L500.3,216.2 L502.7,216.2 L505.1,216.4 L507.4,216.6 L509.7,217.1 L511.9,217.6 L514.1,218.2 L516.3,219.0 L518.4,219.9 L520.5,220.8 L522.5,221.9 L524.5,223.1 L526.4,224.3 L528.4,225.7 L530.3,227.1 L532.1,228.6 L533.9,230.1 L535.7,231.7 L537.5,233.4 L539.2,235.2 L540.9,236.9 L542.6,238.8 L544.3,240.6 L545.9,242.5 L547.5,244.5 L549.1,246.4 L550.7,248.4 L552.2,250.4 L553.7,252.4 L555.2,254.4 L556.7,256.5 L558.2,258.5 L559.6,260.5 L561.1,262.6 L562.5,264.6 L563.9,266.7 L565.2,268.8 L566.6,270.9 L567.9,273.0 L569.3,275.0 L570.6,277.2 L571.9,279.3 L573.1,281.4 L574.4,283.5 L575.6,285.6 L576.9,287.8 L578.1,289.9 L579.2,292.1 L580.4,294.2 L581.6,296.4 L582.7,298.6 L583.8,300.8 L584.9,303.0 L586.0,305.2 L587.1,307.4 L588.2,309.6 L589.2,311.8 L590.3,314.0 L591.3,316.2 L592.3,318.5 L593.3,320.7 L594.3,322.9 L595.2,325.2 L596.2,327.5 L597.1,329.7 L598.0,332.0 L598.9,334.3 L599.8,336.6 L600.7,338.8 L601.5,341.1 L602.4,343.4 L603.2,345.7 L604.1,348.1 L604.9,350.4 L605.7,352.7 L606.5,355.0 L607.2,357.3 L608.0,359.7 L608.7,362.0 L609.5,364.4 L610.2,366.7 L610.9,369.1 L611.6,371.4 L612.3,373.8 L613.0,376.2 L613.7,378.5 L614.3,380.9 L615.0,383.3 L615.6,385.7 L616.2,388.1 L616.8,390.5 L617.5,392.9 L618.0,395.3 L618.6,397.7 L619.2,400.1 L619.8,402.5 L620.3,405.0 L620.9,407.4 L621.4,409.8 L621.9,412.2 L622.5,414.7 L623.0,417.1 L623.5,419.6 L624.0,422.0 L624.4,424.5 L624.9,426.9 L625.4,429.4 L625.8,431.8 L626.3,434.3 L626.7,436.7 L627.2,439.2 L627.6,441.7 L628.0,444.2 L628.4,446.6 L628.8,449.1 L629.2,451.6 L629.6,454.1 L630.0,456.6 L630.4,459.1 L630.8,461.5 L631.1,464.0 L631.5,466.5 L631.8,469.0 L632.2,471.5 L632.5,474.0 L632.9,476.5 L633.2,479.0 L633.5,481.6 L633.8,484.1 L634.1,486.6 L634.5,489.1 L634.8,491.6 L635.1,494.1 L635.3,496.6 L635.6,499.2 L635.9,501.7 L636.2,504.2 L636.5,506.7 L636.8,509.2 L637.0,511.8 L637.3,514.3 L637.6,516.8 L637.8,519.3 L638.1,521.9 L638.3,524.4 L638.6,526.9 L638.8,529.5 L639.1,532.0 L639.3,534.5 L639.6,537.0 L639.8,539.6 L640.0,542.1 L640.3,544.6 L640.5,547.2 L640.7,549.7 L641.0,552.2 L641.2,554.8 L641.4,557.3 L641.6,559.8 L641.9,562.4 L642.1,564.9 L642.3,567.4 L642.5,569.9 L642.7,572.5 L643.0,575.0 L643.2,577.5 L643.4,580.1 L643.6,582.6 L643.8,585.1 L644.1,587.6 L644.3,590.2 L644.5,592.7 L644.7,595.2 L644.9,597.7 L645.2,600.2 L645.4,602.7 L645.6,605.3 L645.8,607.8 L646.1,610.3 L646.3,612.8 L646.5,615.3 L646.8,617.8 L647.0,620.3 L647.2,622.8 L647.4,625.4 L647.7,627.9 L647.9,630.4 L648.1,632.9 L648.4,635.4 L648.6,637.9 L648.8,640.4 L649.1,642.9 L649.3,645.4 L649.5,647.9 L649.8,650.4 L650.0,652.9 L650.2,655.4 L650.5,657.9 L650.7,660.4 L650.9,662.9 L651.2,665.4 L651.4,667.8 L651.6,670.3 L651.9,672.8 L652.1,675.3 L652.4,677.8 L652.6,680.3 L652.8,682.8 L653.1,685.3 L653.3,687.8 L653.6,690.2 L653.8,692.7 L654.0,695.2 L654.3,697.7 L654.5,700.2 L654.8,702.7 L655.0,705.1 L655.3,707.6 L655.5,710.1 L655.7,712.6 L656.0,715.1 L656.2,717.5 L656.5,720.0 L656.7,722.5 L657.0,725.0 L657.2,727.5 L657.5,729.9 L657.7,732.4 L657.9,734.9 L658.2,737.4 L658.4,739.8 L658.7,742.3 L658.9,744.8 L659.2,747.2 L659.4,749.7 L659.7,752.2 L659.9,754.7 L660.2,757.1 L660.4,759.6 L660.7,762.1 L660.9,764.5 L661.2,767.0 L661.4,769.5 L661.7,771.9 L661.9,774.4 L662.2,776.9 L662.4,779.3 L662.6,781.8 L662.9,784.3 L663.1,786.7 L663.4,789.2 L663.6,791.7 L663.9,794.1 L664.1,796.6 L664.4,799.1 L664.6,801.5 L664.9,804.0 L665.1,806.4 L665.4,808.9 L665.6,811.4 L665.9,813.8 L666.1,816.3 L666.4,818.8 L666.6,821.2 L666.9,823.7 L667.1,826.1 L667.4,828.6 L667.6,831.1 L667.9,833.5 L668.1,836.0 L668.4,838.5 L668.6,840.9 L668.9,843.4 L669.1,845.8 L669.4,848.3 L669.6,850.8 L669.8,853.2 L670.1,855.7 L670.3,858.1 L670.6,860.6 L670.8,863.1 L671.1,865.5 L671.3,868.0 L671.6,870.4 L671.8,872.9 L672.1,875.4 L672.3,877.8 L672.6,880.3 L672.8,882.7 L673.0,885.2 L673.3,887.7 L673.5,890.1 L673.8,892.6 L674.0,895.0 L674.3,897.5 L674.5,900.0 L674.8,902.4 L675.0,904.9 L675.2,907.4 L675.5,909.8 L675.7,912.3 L676.0,914.7 L676.2,917.2 L676.4,919.7 L676.7,922.1 L676.9,924.6 L677.2,927.1 L677.4,929.5 L677.6,932.0 L677.9,934.4 L678.1,936.9 L678.4,939.4 L678.6,941.8 L678.8,944.3 L679.1,946.8 L679.3,949.2 L679.5,951.7 L679.8,954.2 L680.0,956.6 L680.2,959.1 L680.5,961.6 L680.7,964.0 L680.9,966.5 L681.2,969.0 L681.4,971.4 L681.6,973.9 L681.9,976.4 L682.1,978.9 L682.3,981.3 L682.6,983.8 L682.8,986.3 L683.0,988.7 L683.2,991.2 L683.5,993.7 L683.7,996.2 L683.9,998.6 L684.2,1001.1 L684.4,1003.6 L684.6,1006.1 L684.8,1008.5 L685.0,1011.0 L685.3,1013.5 L685.5,1016.0 L685.7,1018.5 L685.9,1020.9 L686.2,1023.4 L686.4,1025.9 L686.6,1028.4 L686.8,1030.9 L687.0,1033.4 L687.2,1035.8 L687.5,1038.3 L687.7,1040.8 L687.9,1043.3 L688.1,1045.8 L688.3,1048.3 L688.5,1050.8 L688.7,1053.3 L688.9,1055.7 L689.2,1058.2 L689.4,1060.7 L689.6,1063.2 L689.8,1065.7 L690.0,1068.2 L690.2,1070.7 L690.4,1073.2 L690.6,1075.7 L690.8,1078.2 L691.0,1080.7 L691.2,1083.2 L691.4,1085.7 L691.6,1088.2 L691.8,1090.7 L692.0,1093.2 L692.2,1095.7 L692.4,1098.2 L692.6,1100.7 L692.8,1103.2 L693.0,1105.7 L693.2,1108.2 L693.4,1110.7 L693.6,1113.3 L693.8,1115.8 L694.0,1118.3 L694.1,1120.8 L694.3,1123.3 L694.5,1125.8 L694.7,1128.3 L694.9,1130.9 L695.1,1133.4 L695.3,1135.9 L695.4,1138.4 L695.6,1140.9 L695.8,1143.5 L696.0,1146.0 L696.2,1148.5 L696.3,1151.0 L696.5,1153.6 L696.7,1156.1 L696.9,1158.6 L697.0,1161.2 L697.2,1163.7 L697.4,1166.2 L697.5,1168.8 L697.7,1171.3 L697.9,1173.8 L698.0,1176.4 L698.2,1178.9 L698.4,1181.5 L698.5,1184.0 L698.7,1186.6 L698.9,1189.1 L699.0,1191.6 L699.2,1194.2 L699.3,1196.7 L699.5,1199.3 L699.7,1201.8 L704.9,1224.6 L711.5,1263.0 L715.5,1286.6 L720.0,1300.0 L727.1,1317.6 L729.5,1324.0 L742.6,1324.0 L748.4,1304.0 L756.2,1279.5 L764.0,1226.5 L763.1,1225.8 L763.7,1223.4 L764.3,1221.0 L764.8,1218.7 L765.4,1216.3 L766.0,1213.9 L766.6,1211.5 L767.1,1209.1 L767.7,1206.7 L768.2,1204.3 L768.7,1201.9 L769.3,1199.5 L769.8,1197.1 L770.3,1194.7 L770.8,1192.3 L771.4,1189.9 L771.9,1187.5 L772.4,1185.0 L772.8,1182.6 L773.3,1180.2 L773.8,1177.8 L774.3,1175.4 L774.8,1172.9 L775.2,1170.5 L775.7,1168.1 L776.2,1165.6 L776.6,1163.2 L777.1,1160.7 L777.5,1158.3 L777.9,1155.8 L778.4,1153.4 L778.8,1150.9 L779.2,1148.5 L779.7,1146.0 L780.1,1143.6 L780.5,1141.1 L780.9,1138.7 L781.3,1136.2 L781.7,1133.8 L782.1,1131.3 L782.5,1128.8 L782.9,1126.4 L783.3,1123.9 L783.7,1121.4 L784.1,1118.9 L784.5,1116.5 L784.9,1114.0 L785.3,1111.5 L785.6,1109.0 L786.0,1106.6 L786.4,1104.1 L786.8,1101.6 L787.1,1099.1 L787.5,1096.7 L787.9,1094.2 L788.2,1091.7 L788.6,1089.2 L789.0,1086.7 L789.3,1084.2 L789.7,1081.7 L790.1,1079.3 L790.4,1076.8 L790.8,1074.3 L791.1,1071.8 L791.5,1069.3 L791.8,1066.8 L792.2,1064.3 L792.6,1061.8 L792.9,1059.3 L793.3,1056.8 L793.6,1054.4 L794.0,1051.9 L794.3,1049.4 L794.7,1046.9 L795.0,1044.4 L795.4,1041.9 L795.7,1039.4 L796.1,1036.9 L796.5,1034.4 L796.8,1031.9 L797.2,1029.4 L797.5,1026.9 L797.9,1024.4 L798.3,1021.9 L798.6,1019.5 L799.0,1017.0 L799.4,1014.5 L799.7,1012.0 L800.1,1009.5 L800.5,1007.0 L800.8,1004.5 L801.2,1002.0 L801.6,999.5 L802.0,997.0 L802.4,994.6 L802.8,992.1 L803.1,989.6 L803.5,987.1 L803.9,984.6 L804.3,982.1 L804.7,979.7 L805.1,977.2 L805.5,974.7 L806.0,972.2 L806.4,969.7 L806.8,967.3 L807.2,964.8 L807.6,962.3 L808.1,959.9 L808.5,957.4 L808.9,954.9 L809.4,952.4 L809.8,950.0 L810.3,947.5 L810.7,945.1 L811.2,942.6 L811.6,940.1 L812.1,937.7 L812.6,935.2 L813.1,932.8 L813.5,930.3 L814.0,927.9 L814.5,925.4 L815.0,923.0 L815.5,920.5 L816.0,918.1 L816.5,915.6 L817.1,913.2 L817.6,910.8 L818.1,908.3 L818.7,905.9 L819.2,903.5 L819.8,901.0 L820.3,898.6 L820.9,896.2 L821.5,893.8 L822.0,891.4 L822.6,888.9 L823.2,886.5 L823.8,884.1 L824.4,881.7 L825.0,879.3 L825.7,876.9 L826.3,874.5 L826.9,872.1 L827.6,869.7 L828.2,867.3 L828.9,864.9 L829.5,862.6 L830.2,860.2 L830.9,857.8 L831.6,855.4 L832.3,853.1 L833.0,850.7 L833.7,848.3 L834.4,846.0 L835.2,843.6 L835.9,841.2 L836.7,838.9 L837.4,836.6 L838.2,834.2 L839.0,831.9 L839.8,829.5 L840.6,827.2 L841.4,824.9 L842.2,822.5 L843.0,820.2 L843.9,817.9 L844.7,815.6 L845.6,813.3 L846.4,811.0 L847.3,808.7 L848.2,806.4 L849.1,804.1 L850.0,801.8 L850.9,799.5 L851.8,797.2 L852.8,794.9 L853.7,792.6 L854.7,790.4 L855.6,788.1 L856.6,785.8 L857.5,783.5 L858.5,781.3 L859.5,779.0 L860.5,776.7 L861.5,774.5 L862.5,772.2 L863.5,769.9 L864.5,767.7 L865.5,765.4 L866.6,763.2 L867.6,760.9 L868.6,758.7 L869.7,756.4 L870.7,754.1 L871.7,751.9 L872.8,749.6 L873.8,747.4 L874.9,745.1 L876.0,742.9 L877.0,740.6 L878.1,738.4 L879.1,736.1 L880.2,733.8 L881.3,731.6 L882.3,729.3 L883.4,727.1 L884.5,724.8 L885.6,722.5 L886.6,720.3 L887.7,718.0 L888.8,715.7 L889.9,713.4 L890.9,711.2 L892.0,708.9 L893.1,706.6 L894.1,704.3 L895.2,702.0 L896.3,699.7 L897.3,697.5 L898.4,695.2 L899.5,692.9 L900.5,690.6 L901.6,688.2 L902.6,685.9 L903.7,683.6 L904.7,681.3 L905.7,679.0 L906.8,676.7 L907.8,674.3 L908.8,672.0 L909.9,669.6 L910.9,667.3 L911.9,664.9 L912.9,662.6 L913.9,660.2 L914.9,657.9 L915.9,655.5 L916.9,653.1 L917.8,650.7 L918.8,648.3 L919.8,645.9 L920.7,643.5 L921.7,641.1 L922.6,638.7 L923.5,636.3 L924.4,633.8 L925.3,631.4 L926.3,629.0 L927.2,626.5 L928.0,624.1 L928.9,621.6 L929.8,619.2 L930.8,616.8 L931.7,614.3 L932.6,611.9 L933.5,609.5 L934.5,607.2 L935.5,604.8 L936.5,602.5 L937.5,600.2 L938.5,597.9 L939.6,595.7 L940.7,593.5 L941.8,591.3 L943.0,589.2 L944.2,587.1 L945.5,585.1 L946.8,583.1 L948.2,581.2 L949.6,579.3 L951.0,577.5 L952.5,575.8 L954.1,574.1 L955.7,572.5 L957.4,570.9 L959.2,569.4 L961.0,568.0 L962.9,566.7 L964.9,565.5 L966.9,564.5 L969.0,563.6 L971.1,563.1 L973.2,562.8 L975.3,562.9 L977.3,563.3 L979.4,564.0 L981.4,564.8 L983.4,565.8 L985.3,566.9 L987.1,568.2 L988.8,569.5 L990.5,571.0 L992.1,572.6 L993.7,574.2 L995.1,576.0 L996.6,577.8 L997.9,579.7 L999.3,581.7 L1000.5,583.8 L1001.8,585.9 L1002.9,588.1 L1004.1,590.4 L1005.2,592.7 L1006.2,595.1 L1007.2,597.5 L1008.2,599.9 L1009.1,602.4 L1010.1,605.0 L1011.0,607.5 L1011.8,610.1 L1012.7,612.7 L1013.5,615.3 L1014.3,618.0 L1015.0,620.6 L1015.8,623.2 L1016.6,625.9 L1017.3,628.5 L1018.1,631.1 L1018.8,633.7 L1019.5,636.3 L1020.2,638.9 L1021.0,641.4 L1021.7,643.9 L1022.5,646.3 L1023.2,648.7 L1024.0,651.1 L1024.7,653.5 L1025.5,655.8 L1026.3,658.0 L1027.1,660.3 L1027.9,662.5 L1028.6,664.7 L1029.4,666.9 L1030.2,669.1 L1031.0,671.2 L1031.8,673.4 L1032.6,675.6 L1033.4,677.7 L1034.2,679.9 L1035.0,682.1 L1035.8,684.3 L1036.6,686.5 L1037.3,688.7 L1038.1,691.0 L1038.9,693.3 L1039.6,695.6 L1040.3,697.9 L1041.1,700.3 L1041.8,702.8 L1042.5,705.3 L1043.2,707.8 L1043.9,710.3 L1044.6,712.9 L1045.4,715.5 L1046.1,718.1 L1046.9,720.6 L1047.8,723.2 L1048.7,725.7 L1049.7,728.2 L1050.8,730.7 L1051.9,733.0 L1053.2,735.3 L1054.5,737.6 L1055.9,739.7 L1057.5,741.8 L1059.2,743.7 L1061.0,745.5 L1062.9,747.2 L1064.8,748.7 L1066.8,750.0 L1068.8,751.1 L1070.9,752.0 L1072.9,752.7 L1075.0,753.1 L1077.0,753.2 L1079.0,753.1 L1081.0,752.6 L1082.9,751.9 L1084.8,750.9 L1086.6,749.6 L1088.4,748.1 L1090.1,746.4 L1091.8,744.5 L1093.4,742.4 L1095.0,740.3 L1096.6,738.1 L1098.1,735.8 L1099.6,733.4 L1101.1,731.1 L1102.6,728.7 L1104.0,726.4 L1105.4,724.1 L1106.8,721.8 L1108.1,719.5 L1109.4,717.2 L1110.8,714.9 L1112.0,712.6 L1113.3,710.3 L1114.5,708.0 L1115.8,705.8 L1117.0,703.5 L1118.2,701.2 L1119.3,699.0 L1120.5,696.8 L1121.6,694.5 L1122.7,692.3 L1123.8,690.1 L1124.9,687.8 L1126.0,685.6 L1127.0,683.4 L1128.0,681.2 L1129.1,679.0 L1130.1,676.8 L1131.1,674.6 L1132.1,672.4 L1133.0,670.2 L1134.0,668.0 L1134.9,665.8 L1135.9,663.6 L1136.8,661.4 L1137.8,659.2 L1138.7,657.0 L1139.6,654.8 L1140.5,652.6 L1141.4,650.4 L1142.3,648.2 L1143.2,646.1 L1144.0,643.9 L1144.9,641.7 L1145.8,639.5 L1146.7,637.3 L1147.5,635.1 L1148.4,632.9 L1149.3,630.7 L1150.1,628.5 L1151.0,626.3 L1151.9,624.1 L1152.7,621.9 L1153.6,619.7 L1154.5,617.4 L1155.4,615.2 L1156.2,613.0 L1157.1,610.8 L1158.0,608.5 L1158.9,606.3 L1159.8,604.0 L1160.7,601.8 L1161.6,599.5 L1162.5,597.3 L1163.5,595.0 L1164.4,592.7 L1165.3,590.4 L1166.3,588.1 L1167.3,585.9 L1168.2,583.5 L1169.2,581.2 L1170.2,578.9 L1171.2,576.6 L1172.2,574.3 L1173.3,571.9 L1174.3,569.6 L1175.4,567.2 L1176.5,564.8 L1177.6,562.4 L1178.7,560.0 L1179.8,557.6 L1181.0,555.2 L1182.1,552.8 L1183.3,550.4 L1184.5,547.9 L1185.7,545.5 L1187.0,543.0 L1188.2,540.5 L1189.5,538.0 L1190.8,535.5 L1192.1,533.0 L1193.5,530.5 L1194.9,528.0 L1196.3,525.5 L1197.7,523.0 L1199.1,520.5 L1200.6,518.1 L1202.0,515.7 L1203.5,513.3 L1205.0,511.0 L1206.6,508.7 L1208.1,506.5 L1209.7,504.3 L1211.3,502.3 L1212.9,500.3 L1214.5,498.3 L1216.2,496.5 L1217.9,494.8 L1219.5,493.1 L1221.2,491.6 L1223.0,490.1 L1224.7,488.8 L1226.4,487.6 L1228.2,486.6 L1230.0,485.7 L1231.8,484.9 L1233.6,484.2 L1235.5,483.8 L1237.3,483.4 L1239.2,483.3 L1241.0,483.3 L1242.9,483.5 L1244.8,483.9 L1246.8,484.4 L1248.7,485.2 L1250.7,486.1 L1252.6,487.3 L1254.6,488.6 L1256.6,490.1 L1258.6,491.8 L1260.6,493.5 L1262.6,495.4 L1264.6,497.3 L1266.7,499.3 L1268.7,501.3 L1270.7,503.4 L1272.8,505.4 L1274.8,507.4 L1276.9,509.3 L1278.9,511.2 L1280.9,512.9 L1283.0,514.6 L1285.0,516.1 L1287.1,517.4 L1289.1,518.6 L1291.1,519.5 L1293.1,520.2 L1295.1,520.8 L1297.1,521.1 L1299.0,521.2 L1300.9,521.1 L1302.7,520.8 L1304.4,520.3 L1306.1,519.6 L1307.7,518.8 L1309.3,517.7 L1310.7,516.5 L1312.1,515.1 L1313.5,513.5 L1314.7,511.8 L1316.0,510.0 L1317.1,508.0 L1318.2,505.9 L1319.3,503.8 L1320.3,501.5 L1321.3,499.1 L1322.2,496.6 L1323.1,494.1 L1323.9,491.5 L1324.8,488.8 L1325.5,486.1 L1326.3,483.3 L1327.0,480.6 L1327.7,477.7 L1328.4,474.9 L1329.1,472.1 L1329.7,469.3 L1330.4,466.5 L1331.0,463.7 L1331.6,460.9 L1332.2,458.2 L1332.8,455.6 L1333.4,452.9 L1334.0,450.3 L1334.6,447.8 L1335.2,445.3 L1335.8,442.8 L1336.4,440.3 L1337.0,437.9 L1337.6,435.4 L1338.2,433.1 L1338.8,430.7 L1339.3,428.4 L1339.9,426.0 L1340.5,423.7 L1341.1,421.4 L1341.7,419.1 L1342.3,416.9 L1342.8,414.6 L1343.4,412.4 L1344.0,410.1 L1344.6,407.8 L1345.2,405.6 L1345.8,403.3 L1346.4,401.1 L1347.0,398.8 L1347.6,396.6 L1348.3,394.3 L1348.9,392.0 L1349.5,389.7 L1350.1,387.4 L1350.8,385.1 L1351.4,382.7 L1352.1,380.4 L1352.7,378.0 L1353.4,375.7 L1354.1,373.3 L1354.8,370.9 L1355.5,368.5 L1356.1,366.1 L1356.9,363.7 L1357.6,361.3 L1358.3,358.9 L1359.0,356.5 L1359.8,354.1 L1360.5,351.7 L1361.3,349.3 L1362.1,346.8 L1362.9,344.4 L1363.6,342.0 L1364.5,339.6 L1365.3,337.2 L1366.1,334.7 L1367.0,332.3 L1367.8,329.9 L1368.7,327.5 L1369.6,325.1 L1370.5,322.7 L1371.4,320.3 L1372.3,317.9 L1373.3,315.5 L1374.2,313.2 L1375.2,310.8 L1376.2,308.4 L1377.2,306.1 L1378.2,303.7 L1379.3,301.4 L1380.3,299.1 L1381.4,296.8 L1382.5,294.5 L1383.6,292.2 L1384.7,290.0 L1385.9,287.7 L1387.1,285.5 L1388.3,283.2 L1389.5,281.0 L1390.7,278.8 L1391.9,276.7 L1393.2,274.5 L1394.5,272.4 L1395.8,270.3 L1397.1,268.2 L1398.5,266.1 L1399.9,264.0 L1401.2,262.0 L1402.7,260.0 L1404.1,258.0 L1405.5,256.0 L1407.0,254.0 L1408.5,252.1 L1410.0,250.1 L1411.5,248.2 L1413.1,246.3 L1414.7,244.5 L1416.2,242.6 L1417.9,240.7 L1419.5,238.9 L1421.1,237.1 L1422.8,235.3 L1424.4,233.5 L1426.1,231.8 L1427.8,230.0 L1429.6,228.3 L1431.3,226.6 L1433.0,224.9 L1434.8,223.2 L1436.6,221.5 L1438.4,219.9 L1440.2,218.2 L1442.0,216.6 L1443.9,215.0 L1445.8,213.4 L1447.6,211.8 L1449.5,210.2 L1451.4,208.7 L1453.3,207.1 L1455.3,205.6 L1457.2,204.1 L1459.1,202.6 L1461.1,201.1 L1463.1,199.6 L1465.1,198.1 L1467.1,196.7 L1469.1,195.2 L1471.1,193.8 L1473.1,192.4 L1475.2,191.0 L1477.2,189.6 L1479.3,188.2 L1481.4,186.8 L1483.5,185.4 L1485.6,184.1 L1487.7,182.7 L1489.8,181.4 L1491.9,180.1 L1494.1,178.8 L1496.2,177.4 L1498.3,176.2 L1500.5,174.9 L1502.7,173.6 L1504.8,172.3 L1507.0,171.1 L1509.2,169.8 L1511.4,168.6 L1513.6,167.3 L1515.8,166.1 L1518.0,164.9 L1520.2,163.7 L1522.5,162.5 L1524.7,161.3 L1526.9,160.1 L1529.2,158.9 L1531.4,157.7 L1533.7,156.5 L1535.9,155.4 L1538.2,154.2 L1540.5,153.1 L1542.7,151.9 L1545.0,150.8 L1547.3,149.7 L1549.6,148.5 L1551.8,147.4 L1554.1,146.3 L1556.4,145.2 L1558.7,144.1 L1561.0,143.0 L1563.3,141.9 L1565.6,140.8 L1567.9,139.7 L1570.2,138.6 L1572.5,137.5 L1574.8,136.4 L1577.0,135.4 L1579.3,134.3 L1581.6,133.2 L1583.9,132.1 L1586.2,131.1 L1588.5,130.0 L1590.8,129.0 L1593.1,127.9 L1595.4,126.8 L1597.7,125.8 L1600.0,124.7 L1602.3,123.7 L1604.6,122.6 L1606.8,121.6 L1609.1,120.5 L1611.4,119.5 L1613.7,118.4 L1615.9,117.4 L1618.2,116.3 L1620.5,115.3 L1622.7,114.3 L1625.0,113.2 L1627.3,112.2 L1629.5,111.2 L1631.8,110.1 L1634.1,109.1 L1636.3,108.1 L1638.6,107.1 L1640.8,106.0 L1643.1,105.0 L1645.4,104.0 L1647.6,103.0 L1649.9,102.0 L1652.1,101.0 L1654.4,100.0 L1656.7,99.0 L1658.9,98.0 L1661.2,97.0 L1663.4,96.0 L1665.7,95.0 L1668.0,94.1 L1670.2,93.1 L1672.5,92.1 L1674.8,91.2 L1677.0,90.2 L1679.3,89.2 L1681.6,88.3 L1683.8,87.3 L1686.1,86.4 L1688.4,85.5 L1690.7,84.5 L1692.9,83.6 L1695.2,82.7 L1697.5,81.8 L1699.8,80.9 L1702.1,80.0 L1704.4,79.1 L1706.7,78.2 L1709.0,77.3 L1711.3,76.4 L1713.6,75.5 L1715.9,74.6 L1718.2,73.8 L1720.5,72.9 L1722.8,72.1 L1725.1,71.2 L1727.4,70.4 L1729.8,69.6 L1732.1,68.7 L1734.4,67.9 L1736.8,67.1 L1739.1,66.3 L1741.5,65.5 L1743.8,64.7 L1746.2,63.9 L1748.5,63.1 L1750.9,62.4 L1753.3,61.6 L1755.6,60.9 L1758.0,60.1 L1760.4,59.4 L1762.8,58.7 L1765.2,57.9 L1767.6,57.2 L1770.0,56.5 L1772.4,55.8 L1774.8,55.1 L1777.3,54.5 L1779.7,53.8 L1782.1,53.1 L1784.6,52.5 L1787.0,51.8 L1789.5,51.2 L1792.0,50.6 L1794.4,50.0 L1796.9,49.4 L1799.4,48.8 L1801.9,48.2 L1804.4,47.6 L1806.9,47.0 L1809.4,46.5 L1811.9,45.9 L1814.5,45.4 L1817.0,44.9 L1819.5,44.4 L1822.1,43.9 L1824.7,43.4" stroke="#e4403f" stroke-width="3.6"/>
<path d="M165.4,467.1 L167.0,465.3 L168.6,463.5 L170.3,461.6 L171.9,459.8 L173.6,458.0 L175.2,456.1 L176.9,454.3 L178.5,452.4 L180.2,450.6 L181.8,448.7 L183.5,446.9 L185.2,445.0 L186.8,443.2 L188.5,441.3 L190.1,439.5 L191.8,437.6 L193.5,435.8 L195.1,433.9 L196.8,432.0 L198.5,430.2 L200.1,428.3 L201.8,426.5 L203.5,424.6 L205.2,422.8 L206.8,420.9 L208.5,419.0 L210.2,417.2 L211.9,415.3 L213.6,413.5 L215.3,411.6 L217.0,409.8 L218.7,407.9 L220.4,406.1 L222.1,404.2 L223.8,402.4 L225.5,400.6 L227.2,398.7 L228.9,396.9 L230.6,395.1 L232.4,393.2 L234.1,391.4 L235.8,389.6 L237.5,387.8 L239.3,386.0 L241.0,384.1 L242.8,382.3 L244.5,380.5 L246.3,378.7 L248.0,376.9 L249.8,375.2 L251.5,373.4 L253.3,371.6 L255.1,369.8 L256.9,368.0 L258.6,366.3 L260.4,364.5 L262.2,362.8 L264.0,361.0 L265.8,359.3 L267.6,357.6 L269.4,355.8 L271.2,354.1 L273.0,352.4 L274.9,350.7 L276.7,349.0 L278.5,347.3 L280.4,345.6 L282.2,343.9 L284.1,342.3 L285.9,340.6 L287.8,338.9 L289.6,337.3 L291.5,335.7 L293.4,334.0 L295.3,332.4 L297.2,330.8 L299.1,329.2 L301.0,327.6 L302.9,326.0 L304.8,324.4 L306.7,322.9 L308.6,321.3 L310.5,319.8 L312.5,318.2 L314.4,316.7 L316.4,315.2 L318.3,313.6 L320.3,312.1 L322.2,310.6 L324.2,309.1 L326.1,307.6 L328.1,306.1 L330.1,304.6 L332.1,303.1 L334.0,301.6 L336.0,300.1 L338.0,298.7 L340.0,297.2 L342.0,295.7 L344.0,294.2 L346.0,292.7 L348.0,291.2 L349.9,289.8 L351.9,288.3 L353.9,286.8 L355.9,285.3 L357.9,283.8 L359.9,282.3 L361.9,280.8 L363.9,279.3 L365.9,277.8 L367.9,276.3 L369.9,274.8 L371.9,273.3 L373.9,271.8 L375.9,270.2 L377.9,268.7 L379.9,267.1 L381.9,265.6 L383.9,264.0 L385.9,262.5 L387.9,260.9 L389.8,259.3 L391.8,257.7 L393.8,256.1 L395.8,254.5 L397.7,252.9 L399.7,251.2 L401.7,249.6 L403.6,247.9 L405.6,246.3 L407.6,244.6 L409.5,243.0 L411.5,241.3 L413.5,239.7 L415.4,238.1 L417.4,236.5 L419.4,235.0 L421.4,233.4 L423.5,232.0 L425.5,230.5 L427.6,229.1 L429.6,227.8 L431.7,226.5 L433.9,225.3 L436.0,224.1 L438.2,223.0 L440.4,222.0 L442.6,221.1 L444.8,220.2 L447.1,219.4 L449.4,218.8 L451.8,218.2 L454.2,217.7 L456.6,217.4 L459.1,217.1 L461.6,217.0 L464.1,216.9 L466.6,217.0 L469.1,217.2 L471.6,217.4 L474.2,217.8 L476.6,218.3 L479.1,218.9 L481.5,219.7 L483.9,220.5 L486.3,221.4 L488.5,222.4 L490.8,223.6 L492.9,224.8 L494.9,226.2 L496.9,227.6 L498.8,229.1 L500.6,230.8 L502.3,232.5 L504.0,234.3 L505.6,236.2 L507.1,238.1 L508.6,240.1 L510.0,242.2 L511.4,244.3 L512.7,246.5 L513.9,248.7 L515.1,250.9 L516.3,253.2 L517.5,255.4 L518.6,257.7 L519.6,260.1 L520.7,262.4 L521.7,264.7 L522.7,267.0 L523.7,269.4 L524.7,271.7 L525.6,274.1 L526.5,276.4 L527.4,278.8 L528.3,281.1 L529.1,283.5 L529.9,285.9 L530.7,288.2 L531.5,290.6 L532.3,293.0 L533.0,295.4 L533.8,297.8 L534.5,300.2 L535.2,302.6 L535.9,305.0 L536.5,307.4 L537.2,309.8 L537.8,312.2 L538.4,314.6 L539.0,317.0 L539.6,319.4 L540.2,321.9 L540.7,324.3 L541.3,326.7 L541.8,329.1 L542.4,331.6 L542.9,334.0 L543.4,336.4 L543.9,338.9 L544.4,341.3 L544.9,343.8 L545.3,346.2 L545.8,348.7 L546.3,351.1 L546.7,353.6 L547.2,356.0 L547.6,358.5 L548.0,360.9 L548.5,363.4 L548.9,365.9 L549.3,368.3 L549.7,370.8 L550.1,373.2 L550.6,375.7 L551.0,378.2 L551.4,380.6 L551.8,383.1 L552.2,385.6 L552.6,388.0 L553.0,390.5 L553.4,393.0 L553.8,395.4 L554.2,397.9 L554.7,400.3 L555.1,402.8 L555.5,405.3 L555.9,407.7 L556.4,410.2 L556.8,412.7 L557.2,415.1 L557.7,417.6 L558.1,420.0 L558.6,422.5 L559.0,425.0 L559.5,427.4 L559.9,429.9 L560.4,432.3 L560.8,434.8 L561.3,437.2 L561.8,439.7 L562.2,442.2 L562.7,444.6 L563.2,447.1 L563.7,449.5 L564.2,452.0 L564.6,454.4 L565.1,456.9 L565.6,459.3 L566.1,461.8 L566.6,464.2 L567.1,466.7 L567.6,469.1 L568.2,471.6 L568.7,474.0 L569.2,476.4 L569.7,478.9 L570.3,481.3 L570.8,483.8 L571.3,486.2 L571.9,488.7 L572.4,491.1 L573.0,493.5 L573.5,496.0 L574.1,498.4 L574.6,500.8 L575.2,503.3 L575.7,505.7 L576.3,508.1 L576.9,510.6 L577.5,513.0 L578.0,515.4 L578.6,517.9 L579.2,520.3 L579.8,522.7 L580.4,525.1 L581.0,527.6 L581.6,530.0 L582.2,532.4 L582.8,534.8 L583.5,537.2 L584.1,539.7 L584.7,542.1 L585.3,544.5 L586.0,546.9 L586.6,549.3 L587.2,551.7 L587.9,554.1 L588.5,556.5 L589.2,559.0 L589.9,561.4 L590.5,563.8 L591.2,566.2 L591.9,568.6 L592.5,571.0 L593.2,573.4 L593.9,575.8 L594.6,578.2 L595.3,580.6 L596.0,582.9 L596.7,585.3 L597.4,587.7 L598.1,590.1 L598.8,592.5 L599.5,594.9 L600.3,597.3 L601.0,599.7 L601.7,602.0 L602.5,604.4 L603.2,606.8 L604.0,609.2 L604.7,611.5 L605.5,613.9 L606.2,616.3 L607.0,618.7 L607.8,621.0 L608.5,623.4 L609.3,625.8 L610.1,628.1 L610.9,630.5 L611.7,632.8 L612.5,635.2 L613.3,637.6 L614.1,639.9 L614.9,642.3 L615.7,644.6 L616.6,647.0 L617.4,649.3 L618.2,651.7 L619.1,654.0 L619.9,656.3 L620.8,658.7 L621.6,661.0 L622.5,663.3 L623.3,665.7 L624.2,668.0 L625.1,670.3 L626.0,672.7 L626.8,675.0 L627.7,677.3 L628.6,679.6 L629.5,682.0 L630.4,684.3 L631.3,686.6 L632.2,688.9 L633.1,691.3 L634.0,693.6 L634.9,695.9 L635.8,698.2 L636.7,700.5 L637.6,702.8 L638.6,705.1 L639.5,707.5 L640.4,709.8 L641.3,712.1 L642.2,714.4 L643.2,716.7 L644.1,719.0 L645.0,721.3 L646.0,723.6 L646.9,725.9 L647.8,728.3 L648.7,730.6 L649.7,732.9 L650.6,735.2 L651.5,737.5 L652.5,739.8 L653.4,742.1 L654.3,744.4 L655.3,746.7 L656.2,749.0 L657.1,751.4 L658.1,753.7 L659.0,756.0 L659.9,758.3 L660.9,760.6 L661.8,762.9 L662.7,765.2 L663.6,767.6 L664.5,769.9 L665.5,772.2 L666.4,774.5 L667.3,776.8 L668.2,779.2 L669.1,781.5 L670.0,783.8 L670.9,786.1 L671.8,788.5 L672.7,790.8 L673.6,793.1 L674.5,795.4 L675.4,797.8 L676.3,800.1 L677.2,802.4 L678.0,804.8 L678.9,807.1 L679.8,809.5 L680.7,811.8 L681.5,814.2 L682.4,816.5 L683.2,818.9 L684.1,821.2 L684.9,823.6 L685.8,825.9 L686.6,828.3 L687.4,830.6 L688.2,833.0 L689.0,835.4 L689.9,837.7 L690.7,840.1 L691.5,842.5 L692.2,844.9 L693.0,847.2 L693.8,849.6 L694.6,852.0 L695.3,854.4 L696.1,856.8 L696.8,859.2 L697.6,861.6 L698.3,864.0 L699.1,866.4 L699.8,868.8 L700.5,871.2 L701.2,873.6 L701.9,876.0 L702.6,878.5 L703.3,880.9 L703.9,883.3 L704.6,885.8 L705.2,888.2 L705.9,890.6 L706.5,893.1 L707.2,895.5 L707.8,898.0 L708.4,900.4 L709.0,902.9 L709.6,905.3 L710.2,907.8 L710.8,910.3 L711.4,912.7 L712.0,915.2 L712.6,917.6 L713.2,920.1 L713.8,922.6 L714.4,925.0 L715.0,927.5 L715.7,929.9 L716.3,932.4 L716.9,934.9 L717.5,937.3 L718.1,939.7 L718.8,942.2 L719.4,944.6 L720.1,947.1 L720.7,949.5 L721.4,951.9 L722.1,954.4 L722.7,956.8 L723.4,959.2 L724.2,961.6 L724.9,964.0 L725.6,966.4 L726.4,968.8 L727.1,971.1 L727.9,973.5 L728.7,975.9 L729.5,978.2 L730.4,980.6 L731.2,982.9 L732.1,985.2 L733.0,987.6 L733.9,989.9 L734.9,992.2 L735.8,994.5 L736.8,996.7 L737.8,999.0 L738.9,1001.3 L739.9,1003.5 L741.0,1005.7 L742.1,1008.0 L743.3,1010.2 L744.4,1012.3 L745.6,1014.5 L746.9,1016.7 L748.1,1018.8 L749.4,1021.0 L750.7,1023.1 L752.1,1025.2 L753.5,1027.3 L754.9,1029.4 L756.3,1031.4 L757.8,1033.5 L759.4,1035.5 L760.9,1037.4 L762.5,1039.3 L764.1,1041.2 L765.8,1042.9 L767.5,1044.6 L769.2,1046.1 L770.9,1047.6 L772.7,1048.9 L774.5,1050.0 L776.3,1051.0 L778.1,1051.8 L779.9,1052.4 L781.8,1052.8 L783.7,1053.0 L785.6,1053.0 L787.5,1052.7 L789.5,1052.2 L791.4,1051.4 L793.4,1050.3 L795.4,1049.0 L797.3,1047.4 L799.3,1045.7 L801.4,1043.8 L803.4,1041.8 L805.5,1039.6 L807.5,1037.4 L809.6,1035.2 L811.7,1032.9 L813.9,1030.6 L816.0,1028.4 L818.2,1026.3 L820.4,1024.3 L822.6,1022.4 L824.8,1020.7 L827.1,1019.1 L829.4,1017.8 L831.7,1016.8 L834.1,1015.9 L836.4,1015.4 L838.7,1015.0 L841.0,1014.8 L843.2,1014.8 L845.4,1015.0 L847.5,1015.4 L849.5,1016.0 L851.6,1016.6 L853.5,1017.5 L855.4,1018.5 L857.3,1019.6 L859.2,1020.8 L861.0,1022.1 L862.8,1023.6 L864.6,1025.1 L866.4,1026.7 L868.2,1028.4 L870.1,1030.2 L871.9,1032.0 L873.8,1033.8 L875.7,1035.7 L877.6,1037.6 L879.6,1039.6 L881.6,1041.5 L883.6,1043.5 L885.7,1045.4 L887.8,1047.4 L890.0,1049.3 L892.1,1051.2 L894.3,1053.0 L896.5,1054.8 L898.7,1056.6 L900.9,1058.3 L903.1,1059.9 L905.4,1061.5 L907.6,1063.0 L909.8,1064.4 L912.0,1065.6 L914.2,1066.8 L916.4,1067.9 L918.6,1068.8 L920.7,1069.6 L922.8,1070.3 L924.9,1070.8 L927.0,1071.2 L929.0,1071.4 L930.9,1071.5 L932.9,1071.3 L934.8,1071.0 L936.6,1070.5 L938.4,1069.8 L940.2,1069.0 L941.9,1068.1 L943.6,1066.9 L945.2,1065.7 L946.8,1064.3 L948.3,1062.8 L949.8,1061.1 L951.3,1059.4 L952.8,1057.5 L954.2,1055.5 L955.5,1053.5 L956.9,1051.4 L958.2,1049.1 L959.5,1046.8 L960.7,1044.5 L961.9,1042.1 L963.1,1039.6 L964.2,1037.1 L965.4,1034.5 L966.5,1031.9 L967.5,1029.3 L968.6,1026.7 L969.6,1024.1 L970.6,1021.4 L971.6,1018.8 L972.5,1016.1 L973.5,1013.5 L974.4,1010.9 L975.3,1008.4 L976.1,1005.8 L977.0,1003.3 L977.8,1000.8 L978.6,998.4 L979.5,996.0 L980.2,993.6 L981.0,991.3 L981.8,988.9 L982.6,986.6 L983.3,984.3 L984.1,982.0 L984.8,979.8 L985.5,977.5 L986.3,975.3 L987.0,973.0 L987.7,970.8 L988.5,968.6 L989.2,966.4 L989.9,964.2 L990.6,962.0 L991.4,959.8 L992.1,957.6 L992.9,955.4 L993.6,953.2 L994.4,951.0 L995.2,948.7 L995.9,946.5 L996.7,944.3 L997.6,942.0 L998.4,939.7 L999.2,937.4 L1000.1,935.1 L1000.9,932.8 L1001.8,930.4 L1002.7,928.0 L1003.7,925.6 L1004.6,923.2 L1005.6,920.7 L1006.6,918.3 L1007.6,915.8 L1008.7,913.4 L1009.8,910.9 L1010.9,908.4 L1012.0,905.9 L1013.1,903.5 L1014.3,901.0 L1015.5,898.6 L1016.8,896.1 L1018.1,893.7 L1019.4,891.3 L1020.7,888.9 L1022.1,886.6 L1023.5,884.3 L1024.9,882.2 L1026.4,880.0 L1027.9,878.0 L1029.5,876.1 L1031.1,874.4 L1032.7,872.8 L1034.4,871.3 L1036.1,870.0 L1037.9,868.9 L1039.7,868.0 L1041.5,867.3 L1043.4,866.8 L1045.4,866.5 L1047.4,866.5 L1049.4,866.8 L1051.5,867.3 L1053.6,868.1 L1055.8,869.0 L1058.0,870.1 L1060.3,871.3 L1062.6,872.5 L1064.9,873.8 L1067.2,875.0 L1069.6,876.3 L1072.0,877.5 L1074.4,878.6 L1076.8,879.7 L1079.3,880.8 L1081.7,881.8 L1084.2,882.8 L1086.7,883.7 L1089.2,884.6 L1091.6,885.3 L1094.1,886.1 L1096.6,886.7 L1099.1,887.3 L1101.5,887.8 L1104.0,888.2 L1106.4,888.5 L1108.8,888.8 L1111.2,888.9 L1113.6,888.9 L1115.9,888.9 L1118.2,888.7 L1120.5,888.4 L1122.7,888.0 L1125.0,887.5 L1127.1,886.8 L1129.3,886.0 L1131.3,885.1 L1133.4,884.1 L1135.4,882.9 L1137.4,881.7 L1139.3,880.3 L1141.2,878.8 L1143.1,877.3 L1144.9,875.6 L1146.7,873.9 L1148.5,872.1 L1150.3,870.2 L1152.0,868.3 L1153.7,866.3 L1155.4,864.3 L1157.1,862.2 L1158.8,860.1 L1160.5,857.9 L1162.1,855.8 L1163.8,853.6 L1165.5,851.4 L1167.1,849.2 L1168.8,847.0 L1170.4,844.8 L1172.1,842.6 L1173.7,840.5 L1175.4,838.4 L1177.1,836.3 L1178.8,834.2 L1180.5,832.2 L1182.3,830.3 L1184.0,828.4 L1185.8,826.5 L1187.6,824.8 L1189.4,823.1 L1191.3,821.5 L1193.1,820.0 L1195.0,818.6 L1197.0,817.4 L1199.0,816.2 L1201.0,815.2 L1203.0,814.3 L1205.1,813.6 L1207.2,813.0 L1209.3,812.7 L1211.5,812.5 L1213.7,812.5 L1216.0,812.7 L1218.3,813.1 L1220.6,813.6 L1223.0,814.4 L1225.4,815.2 L1227.8,816.1 L1230.2,817.0 L1232.7,818.0 L1235.1,818.9 L1237.6,819.8 L1240.1,820.7 L1242.5,821.5 L1245.0,822.2 L1247.4,822.8 L1249.8,823.4 L1252.3,823.9 L1254.6,824.3 L1257.0,824.6 L1259.3,824.8 L1261.6,824.8 L1263.8,824.8 L1266.0,824.5 L1268.2,824.2 L1270.3,823.7 L1272.3,823.1 L1274.4,822.3 L1276.3,821.5 L1278.3,820.5 L1280.1,819.4 L1282.0,818.2 L1283.8,816.9 L1285.6,815.5 L1287.3,814.0 L1289.0,812.4 L1290.7,810.8 L1292.4,809.0 L1294.0,807.2 L1295.6,805.3 L1297.1,803.3 L1298.7,801.3 L1300.2,799.2 L1301.6,797.1 L1303.1,794.9 L1304.5,792.7 L1305.9,790.5 L1307.3,788.2 L1308.7,785.9 L1310.1,783.5 L1311.4,781.1 L1312.7,778.8 L1314.0,776.4 L1315.3,774.0 L1316.6,771.6 L1317.9,769.2 L1319.2,766.8 L1320.4,764.4 L1321.7,762.1 L1322.9,759.7 L1324.2,757.4 L1325.4,755.0 L1326.6,752.7 L1327.8,750.4 L1329.0,748.0 L1330.2,745.7 L1331.4,743.4 L1332.5,741.1 L1333.7,738.8 L1334.9,736.5 L1336.0,734.2 L1337.2,732.0 L1338.3,729.7 L1339.4,727.4 L1340.5,725.2 L1341.6,722.9 L1342.8,720.6 L1343.8,718.4 L1344.9,716.1 L1346.0,713.9 L1347.1,711.6 L1348.2,709.4 L1349.2,707.2 L1350.3,704.9 L1351.3,702.7 L1352.4,700.5 L1353.4,698.2 L1354.4,696.0 L1355.4,693.8 L1356.5,691.5 L1357.5,689.3 L1358.5,687.1 L1359.5,684.9 L1360.5,682.6 L1361.4,680.4 L1362.4,678.2 L1363.4,675.9 L1364.4,673.7 L1365.3,671.5 L1366.3,669.2 L1367.2,667.0 L1368.2,664.8 L1369.1,662.5 L1370.0,660.3 L1371.0,658.0 L1371.9,655.8 L1372.8,653.5 L1373.7,651.2 L1374.6,649.0 L1375.5,646.7 L1376.4,644.4 L1377.3,642.2 L1378.2,639.9 L1379.1,637.6 L1380.0,635.3 L1380.9,633.0 L1381.7,630.7 L1382.6,628.4 L1383.5,626.1 L1384.3,623.8 L1385.2,621.5 L1386.1,619.2 L1386.9,616.9 L1387.8,614.6 L1388.6,612.3 L1389.5,609.9 L1390.3,607.6 L1391.2,605.3 L1392.0,603.0 L1392.9,600.6 L1393.7,598.3 L1394.5,596.0 L1395.4,593.7 L1396.2,591.3 L1397.1,589.0 L1397.9,586.6 L1398.7,584.3 L1399.6,582.0 L1400.4,579.6 L1401.2,577.3 L1402.1,574.9 L1402.9,572.6 L1403.7,570.2 L1404.6,567.9 L1405.4,565.5 L1406.2,563.2 L1407.1,560.8 L1407.9,558.5 L1408.7,556.1 L1409.6,553.7 L1410.4,551.4 L1411.2,549.0 L1412.1,546.7 L1412.9,544.3 L1413.8,542.0 L1414.6,539.6 L1415.5,537.2 L1416.3,534.9 L1417.2,532.5 L1418.0,530.2 L1418.9,527.8 L1419.8,525.5 L1420.6,523.1 L1421.5,520.7 L1422.4,518.4 L1423.2,516.0 L1424.1,513.7 L1425.0,511.3 L1425.9,509.0 L1426.8,506.6 L1427.7,504.3 L1428.6,501.9 L1429.5,499.6 L1430.4,497.2 L1431.3,494.9 L1432.2,492.5 L1433.2,490.2 L1434.1,487.8 L1435.0,485.5 L1436.0,483.2 L1436.9,480.8 L1437.9,478.5 L1438.8,476.2 L1439.8,473.8 L1440.8,471.5 L1441.7,469.2 L1442.7,466.8 L1443.7,464.5 L1444.7,462.2 L1445.7,459.9 L1446.7,457.6 L1447.7,455.2 L1448.8,452.9 L1449.8,450.6 L1450.8,448.3 L1451.9,446.0 L1452.9,443.7 L1454.0,441.4 L1455.1,439.1 L1456.2,436.9 L1457.2,434.6 L1458.3,432.3 L1459.4,430.0 L1460.5,427.7 L1461.7,425.5 L1462.8,423.2 L1463.9,420.9 L1465.1,418.7 L1466.2,416.4 L1467.4,414.2 L1468.5,412.0 L1469.7,409.7 L1470.9,407.5 L1472.1,405.3 L1473.3,403.0 L1474.5,400.8 L1475.7,398.6 L1476.9,396.4 L1478.1,394.2 L1479.4,392.0 L1480.6,389.8 L1481.9,387.6 L1483.1,385.5 L1484.4,383.3 L1485.7,381.1 L1487.0,379.0 L1488.3,376.8 L1489.6,374.7 L1490.9,372.6 L1492.2,370.4 L1493.6,368.3 L1494.9,366.2 L1496.3,364.1 L1497.6,362.0 L1499.0,359.9 L1500.4,357.8 L1501.8,355.7 L1503.2,353.7 L1504.6,351.6 L1506.0,349.5 L1507.4,347.5 L1508.8,345.5 L1510.3,343.4 L1511.7,341.4 L1513.2,339.4 L1514.7,337.4 L1516.2,335.4 L1517.7,333.4 L1519.2,331.4 L1520.7,329.5 L1522.2,327.5 L1523.7,325.6 L1525.3,323.6 L1526.8,321.7 L1528.4,319.8 L1530.0,317.9 L1531.5,316.0 L1533.1,314.1 L1534.7,312.2 L1536.3,310.4 L1538.0,308.5 L1539.6,306.6 L1541.2,304.8 L1542.9,303.0 L1544.6,301.2 L1546.2,299.4 L1547.9,297.6 L1549.6,295.8 L1551.3,294.0 L1553.0,292.3 L1554.8,290.5 L1556.5,288.8 L1558.2,287.1 L1560.0,285.4 L1561.8,283.7 L1563.5,282.0 L1565.3,280.3 L1567.1,278.6 L1569.0,277.0 L1570.8,275.4 L1572.6,273.7 L1574.5,272.1 L1576.3,270.5 L1578.2,268.9 L1580.1,267.4 L1582.0,265.8 L1583.9,264.3 L1585.8,262.7 L1587.7,261.2 L1589.6,259.7 L1591.6,258.2 L1593.5,256.8 L1595.5,255.3 L1597.5,253.9 L1599.5,252.4 L1601.5,251.0 L1603.5,249.6 L1605.6,248.2 L1607.6,246.8 L1609.6,245.5 L1611.7,244.1 L1613.8,242.8 L1615.9,241.5 L1618.0,240.2 L1620.1,238.9 L1622.2,237.6 L1624.4,236.4 L1626.5,235.2 L1628.7,233.9 L1630.8,232.7 L1633.0,231.6 L1635.2,230.4 L1637.4,229.2 L1639.7,228.1 L1641.9,227.0 L1644.2,225.9 L1646.4,224.8 L1648.7,223.7 L1651.0,222.7 L1653.3,221.6 L1655.6,220.6 L1657.9,219.6 L1660.3,218.6 L1662.6,217.7 L1665.0,216.7 L1667.4,215.8 L1669.7,214.9 L1672.1,214.0 L1674.5,213.1 L1677.0,212.2 L1679.4,211.3 L1681.8,210.5 L1684.3,209.6 L1686.7,208.8 L1689.1,208.0 L1691.6,207.2 L1694.1,206.4 L1696.5,205.6 L1699.0,204.8 L1701.5,204.1 L1703.9,203.3 L1706.4,202.5 L1708.9,201.8 L1711.3,201.0 L1713.8,200.3 L1716.3,199.6 L1718.7,198.8 L1721.2,198.1 L1723.7,197.3 L1726.1,196.6 L1728.6,195.9 L1731.0,195.1 L1733.4,194.4 L1735.9,193.7 L1738.3,192.9 L1740.7,192.2 L1743.1,191.4 L1745.5,190.7 L1747.9,189.9 L1750.3,189.2 L1752.6,188.4 L1755.0,187.6 L1757.3,186.8 L1759.6,186.0 L1761.9,185.2 L1764.2,184.4 L1766.5,183.6 L1768.8,182.8 L1771.0,181.9 L1773.2,181.1 L1775.5,180.3 L1777.7,179.4 L1779.9,178.6 L1782.2,177.8 L1784.4,177.0 L1786.7,176.3 L1788.9,175.6 L1791.2,174.9 L1793.5,174.2 L1795.9,173.6 L1798.2,173.1 L1800.6,172.6 L1803.0,172.1 L1805.5,171.7 L1808.0,171.4 L1810.6,171.2 L1813.2,171.0 L1815.9,170.9 L1818.6,170.9 L1821.4,171.0 L1824.2,171.2" stroke="#2c6ad4" stroke-width="3.6"/>
<path d="M165.2,336.1 L167.1,334.5 L169.0,332.9 L170.9,331.3 L172.8,329.7 L174.7,328.1 L176.6,326.5 L178.5,325.0 L180.4,323.4 L182.3,321.8 L184.2,320.2 L186.2,318.6 L188.1,317.0 L190.0,315.4 L191.9,313.9 L193.8,312.3 L195.7,310.7 L197.7,309.1 L199.6,307.5 L201.5,305.9 L203.4,304.3 L205.4,302.8 L207.3,301.2 L209.2,299.6 L211.1,298.0 L213.1,296.4 L215.0,294.8 L216.9,293.3 L218.9,291.7 L220.8,290.1 L222.8,288.5 L224.7,286.9 L226.6,285.4 L228.6,283.8 L230.5,282.2 L232.5,280.6 L234.4,279.0 L236.4,277.5 L238.3,275.9 L240.3,274.3 L242.2,272.7 L244.2,271.1 L246.1,269.6 L248.1,268.0 L250.0,266.4 L252.0,264.8 L253.9,263.3 L255.9,261.7 L257.8,260.1 L259.8,258.5 L261.7,257.0 L263.7,255.4 L265.7,253.8 L267.6,252.3 L269.6,250.7 L271.5,249.1 L273.5,247.5 L275.5,246.0 L277.4,244.4 L279.4,242.8 L281.3,241.3 L283.3,239.7 L285.3,238.1 L287.2,236.6 L289.2,235.0 L291.1,233.4 L293.1,231.9 L295.1,230.3 L297.0,228.8 L299.0,227.2 L300.9,225.6 L302.9,224.1 L304.9,222.5 L306.8,221.0 L308.8,219.4 L310.8,217.8 L312.7,216.3 L314.7,214.7 L316.6,213.2 L318.6,211.6 L320.5,210.1 L322.5,208.5 L324.5,207.0 L326.4,205.4 L328.4,203.9 L330.3,202.3 L332.3,200.8 L334.2,199.2 L336.2,197.7 L338.2,196.1 L340.1,194.6 L342.1,193.0 L344.0,191.5 L346.0,190.0 L347.9,188.4 L349.9,186.9 L351.8,185.3 L353.8,183.8 L355.7,182.3 L357.6,180.7 L359.6,179.2 L361.5,177.7 L363.5,176.1 L365.4,174.6 L367.4,173.1 L369.3,171.5 L371.2,170.0 L373.2,168.5 L375.1,166.9 L377.0,165.4 L379.0,163.9 L380.9,162.4 L382.8,160.9 L384.8,159.3 L386.7,157.8 L388.7,156.3 L390.6,154.8 L392.6,153.3 L394.5,151.8 L396.5,150.3 L398.5,148.9 L400.5,147.4 L402.5,145.9 L404.5,144.5 L406.5,143.0 L408.6,141.6 L410.6,140.2 L412.7,138.8 L414.8,137.4 L416.9,136.0 L419.0,134.6 L421.1,133.2 L423.3,131.9 L425.5,130.5 L427.7,129.2 L429.9,127.9 L432.1,126.6 L434.4,125.4 L436.7,124.1 L439.0,122.9 L441.4,121.6 L443.8,120.4 L446.2,119.3 L448.6,118.2 L451.0,117.1 L453.4,116.0 L455.8,115.1 L458.3,114.1 L460.7,113.3 L463.1,112.5 L465.6,111.8 L468.0,111.1 L470.4,110.6 L472.8,110.1 L475.2,109.7 L477.5,109.4 L479.9,109.3 L482.2,109.2 L484.5,109.3 L486.7,109.4 L488.9,109.7 L491.1,110.1 L493.2,110.7 L495.3,111.4 L497.4,112.2 L499.3,113.2 L501.3,114.4 L503.2,115.7 L505.0,117.1 L506.8,118.6 L508.6,120.3 L510.3,122.1 L511.9,124.0 L513.5,125.9 L515.1,128.0 L516.6,130.1 L518.1,132.3 L519.5,134.6 L520.9,136.9 L522.3,139.3 L523.6,141.7 L524.8,144.1 L526.1,146.5 L527.3,149.0 L528.4,151.4 L529.5,153.9 L530.6,156.3 L531.7,158.7 L532.7,161.1 L533.7,163.5 L534.7,165.9 L535.6,168.2 L536.5,170.6 L537.4,172.9 L538.2,175.2 L539.1,177.5 L539.9,179.8 L540.7,182.1 L541.4,184.4 L542.2,186.7 L542.9,189.0 L543.6,191.3 L544.3,193.6 L545.0,195.8 L545.7,198.1 L546.4,200.4 L547.1,202.7 L547.7,205.0 L548.4,207.4 L549.0,209.7 L549.7,212.0 L550.3,214.4 L550.9,216.7 L551.6,219.1 L552.2,221.5 L552.8,223.9 L553.5,226.3 L554.1,228.8 L554.7,231.2 L555.4,233.6 L556.0,236.1 L556.6,238.5 L557.3,241.0 L557.9,243.5 L558.5,246.0 L559.1,248.4 L559.7,250.9 L560.4,253.4 L561.0,255.9 L561.6,258.4 L562.2,260.9 L562.8,263.4 L563.4,265.9 L564.0,268.4 L564.6,270.9 L565.2,273.4 L565.8,275.8 L566.4,278.3 L567.0,280.8 L567.6,283.3 L568.2,285.7 L568.8,288.2 L569.4,290.7 L570.0,293.1 L570.5,295.6 L571.1,298.0 L571.7,300.4 L572.3,302.8 L572.9,305.2 L573.4,307.6 L574.0,310.0 L574.6,312.4 L575.1,314.7 L575.7,317.1 L576.3,319.4 L576.8,321.8 L577.4,324.1 L578.0,326.4 L578.6,328.8 L579.1,331.1 L579.7,333.4 L580.3,335.7 L580.9,338.1 L581.5,340.4 L582.1,342.7 L582.7,345.1 L583.3,347.4 L584.0,349.7 L584.6,352.1 L585.3,354.5 L585.9,356.8 L586.6,359.2 L587.3,361.6 L588.0,364.0 L588.7,366.4 L589.4,368.8 L590.2,371.3 L590.9,373.7 L591.7,376.2 L592.5,378.7 L593.3,381.2 L594.1,383.7 L595.0,386.2 L595.8,388.8 L596.7,391.4 L597.6,393.9 L598.6,396.5 L599.5,399.1 L600.5,401.6 L601.6,404.0 L602.7,406.5 L603.8,408.8 L605.0,411.1 L606.3,413.4 L607.6,415.5 L609.0,417.5 L610.4,419.4 L611.9,421.2 L613.5,422.9 L615.1,424.5 L616.9,425.8 L618.7,427.1 L620.6,428.1 L622.6,429.0 L624.7,429.7 L626.7,430.1 L628.8,430.3 L630.9,430.2 L633.0,429.8 L635.1,429.1 L637.1,428.1 L639.2,426.8 L641.2,425.3 L643.2,423.6 L645.1,421.7 L647.1,419.6 L649.1,417.5 L651.2,415.3 L653.2,413.0 L655.3,410.7 L657.4,408.4 L659.6,406.2 L661.7,404.1 L663.9,402.2 L666.0,400.4 L668.1,398.8 L670.2,397.4 L672.2,396.4 L674.2,395.6 L676.1,395.2 L677.9,395.2 L679.7,395.7 L681.3,396.6 L682.9,397.8 L684.4,399.3 L685.8,401.1 L687.2,402.9 L688.6,404.9 L689.9,406.8 L691.2,408.8 L692.4,410.8 L693.7,412.8 L694.9,414.9 L696.1,416.9 L697.2,419.0 L698.3,421.1 L699.4,423.2 L700.5,425.3 L701.6,427.5 L702.6,429.6 L703.6,431.8 L704.6,434.0 L705.5,436.2 L706.5,438.4 L707.4,440.6 L708.3,442.9 L709.1,445.1 L710.0,447.4 L710.8,449.7 L711.6,452.0 L712.4,454.3 L713.2,456.6 L713.9,458.9 L714.7,461.3 L715.4,463.6 L716.1,466.0 L716.8,468.4 L717.4,470.7 L718.1,473.1 L718.7,475.5 L719.3,478.0 L719.9,480.4 L720.5,482.8 L721.1,485.2 L721.7,487.7 L722.2,490.1 L722.8,492.6 L723.3,495.1 L723.8,497.6 L724.3,500.0 L724.8,502.5 L725.3,505.0 L725.8,507.5 L726.3,510.0 L726.7,512.5 L727.2,515.0 L727.6,517.6 L728.1,520.1 L728.5,522.6 L728.9,525.1 L729.3,527.7 L729.8,530.2 L730.2,532.7 L730.6,535.3 L731.0,537.8 L731.4,540.3 L731.8,542.9 L732.2,545.4 L732.6,548.0 L733.0,550.5 L733.3,553.0 L733.7,555.6 L734.1,558.1 L734.5,560.7 L734.9,563.2 L735.3,565.7 L735.7,568.3 L736.1,570.8 L736.5,573.3 L736.9,575.9 L737.3,578.4 L737.7,580.9 L738.1,583.4 L738.5,585.9 L738.9,588.4 L739.3,590.9 L739.8,593.4 L740.2,595.9 L740.6,598.4 L741.1,600.9 L741.5,603.4 L742.0,605.9 L742.4,608.3 L742.9,610.8 L743.3,613.3 L743.8,615.8 L744.3,618.2 L744.7,620.7 L745.2,623.1 L745.7,625.6 L746.2,628.0 L746.7,630.5 L747.2,632.9 L747.7,635.4 L748.2,637.8 L748.7,640.3 L749.2,642.7 L749.7,645.1 L750.2,647.6 L750.7,650.0 L751.2,652.4 L751.8,654.9 L752.3,657.3 L752.8,659.7 L753.4,662.1 L753.9,664.5 L754.4,667.0 L755.0,669.4 L755.5,671.8 L756.1,674.2 L756.7,676.6 L757.2,679.0 L757.8,681.4 L758.4,683.8 L758.9,686.2 L759.5,688.6 L760.1,691.0 L760.7,693.4 L761.3,695.8 L761.9,698.2 L762.5,700.6 L763.1,703.0 L763.7,705.3 L764.3,707.7 L764.9,710.1 L765.5,712.5 L766.1,714.9 L766.8,717.3 L767.4,719.6 L768.0,722.0 L768.7,724.4 L769.3,726.8 L769.9,729.2 L770.6,731.5 L771.2,733.9 L771.9,736.3 L772.5,738.7 L773.2,741.1 L773.9,743.4 L774.5,745.8 L775.2,748.2 L775.9,750.6 L776.6,752.9 L777.2,755.3 L777.9,757.7 L778.6,760.1 L779.3,762.4 L780.0,764.8 L780.7,767.2 L781.4,769.6 L782.1,771.9 L782.8,774.3 L783.5,776.7 L784.3,779.1 L785.0,781.4 L785.7,783.8 L786.4,786.2 L787.2,788.6 L787.9,791.0 L788.6,793.3 L789.4,795.7 L790.1,798.1 L790.9,800.5 L791.6,802.9 L792.4,805.3 L793.1,807.6 L793.9,810.0 L794.6,812.4 L795.4,814.8 L796.2,817.2 L797.0,819.6 L797.7,822.0 L798.5,824.4 L799.3,826.8 L800.1,829.2 L800.9,831.6 L801.7,834.0 L802.5,836.4 L803.3,838.8 L804.1,841.2 L804.9,843.6 L805.7,846.0 L806.5,848.4 L807.3,850.8 L808.2,853.2 L809.0,855.7 L809.8,858.1 L810.7,860.5 L811.5,862.9 L812.4,865.3 L813.2,867.7 L814.1,870.1 L815.0,872.5 L815.9,874.9 L816.8,877.3 L817.7,879.7 L818.6,882.0 L819.6,884.4 L820.6,886.8 L821.6,889.1 L822.6,891.4 L823.6,893.7 L824.6,896.0 L825.7,898.3 L826.8,900.6 L827.9,902.8 L829.0,905.0 L830.2,907.3 L831.4,909.5 L832.6,911.6 L833.8,913.8 L835.1,915.9 L836.4,918.0 L837.8,920.1 L839.1,922.2 L840.5,924.2 L841.9,926.2 L843.4,928.2 L844.9,930.1 L846.4,932.1 L848.0,933.9 L849.6,935.8 L851.3,937.6 L853.0,939.4 L854.7,941.2 L856.5,942.9 L858.3,944.6 L860.1,946.2 L862.0,947.6 L863.9,948.9 L865.8,949.9 L867.8,950.7 L869.7,951.2 L871.7,951.4 L873.6,951.3 L875.5,950.9 L877.4,950.2 L879.2,949.2 L880.9,948.0 L882.5,946.5 L884.0,944.8 L885.4,942.9 L886.7,940.8 L888.0,938.6 L889.2,936.2 L890.4,933.7 L891.5,931.2 L892.6,928.5 L893.8,925.8 L894.9,923.1 L896.1,920.3 L897.3,917.6 L898.6,914.9 L900.0,912.2 L901.4,909.6 L902.9,907.1 L904.5,904.7 L906.1,902.4 L907.8,900.2 L909.5,898.1 L911.2,896.1 L913.0,894.3 L914.9,892.6 L916.7,891.0 L918.5,889.7 L920.4,888.5 L922.3,887.5 L924.2,886.7 L926.0,886.1 L927.9,885.8 L929.7,885.6 L931.5,885.7 L933.3,886.1 L935.1,886.6 L936.8,887.4 L938.6,888.4 L940.3,889.7 L942.0,891.0 L943.6,892.6 L945.3,894.3 L947.0,896.2 L948.6,898.2 L950.3,900.3 L951.9,902.6 L953.6,904.9 L955.3,907.4 L956.9,909.9 L958.6,912.5 L960.3,915.1 L962.0,917.8 L963.8,920.4 L965.5,923.1 L967.2,925.8 L969.0,928.3 L970.7,930.8 L972.5,933.2 L974.2,935.5 L975.9,937.6 L977.6,939.5 L979.3,941.2 L981.0,942.7 L982.6,943.9 L984.2,944.8 L985.8,945.4 L987.4,945.6 L988.9,945.5 L990.4,945.0 L991.8,944.2 L993.2,942.9 L994.5,941.4 L995.9,939.6 L997.2,937.7 L998.5,935.6 L999.7,933.4 L1001.0,931.2 L1002.3,929.0 L1003.5,926.8 L1004.8,924.5 L1006.0,922.3 L1007.2,920.1 L1008.5,917.9 L1009.7,915.7 L1010.9,913.5 L1012.1,911.3 L1013.3,909.1 L1014.5,906.9 L1015.7,904.7 L1016.9,902.5 L1018.1,900.3 L1019.2,898.1 L1020.4,895.9 L1021.6,893.7 L1022.8,891.5 L1023.9,889.3 L1025.1,887.1 L1026.2,884.9 L1027.4,882.7 L1028.5,880.5 L1029.7,878.3 L1030.8,876.1 L1032.0,873.9 L1033.1,871.7 L1034.2,869.5 L1035.4,867.3 L1036.5,865.1 L1037.6,862.9 L1038.8,860.7 L1039.9,858.5 L1041.0,856.3 L1042.1,854.1 L1043.3,851.9 L1044.4,849.7 L1045.5,847.5 L1046.6,845.3 L1047.7,843.1 L1048.8,840.9 L1050.0,838.7 L1051.1,836.5 L1052.2,834.3 L1053.3,832.1 L1054.4,829.9 L1055.5,827.7 L1056.7,825.5 L1057.8,823.3 L1058.9,821.1 L1060.0,818.9 L1061.1,816.6 L1062.3,814.4 L1063.4,812.2 L1064.5,810.0 L1065.6,807.8 L1066.8,805.6 L1067.9,803.4 L1069.0,801.2 L1070.2,799.0 L1071.3,796.7 L1072.4,794.5 L1073.6,792.3 L1074.7,790.1 L1075.9,787.9 L1077.0,785.7 L1078.2,783.4 L1079.4,781.2 L1080.5,779.0 L1081.7,776.8 L1082.9,774.5 L1084.0,772.3 L1085.2,770.1 L1086.4,767.8 L1087.6,765.6 L1088.8,763.4 L1090.0,761.1 L1091.2,758.9 L1092.4,756.7 L1093.6,754.4 L1094.9,752.2 L1096.1,750.0 L1097.3,747.7 L1098.6,745.5 L1099.8,743.2 L1101.1,741.0 L1102.3,738.7 L1103.6,736.5 L1104.9,734.2 L1106.1,732.0 L1107.4,729.8 L1108.8,727.5 L1110.1,725.3 L1111.4,723.1 L1112.8,721.0 L1114.2,718.8 L1115.5,716.6 L1117.0,714.5 L1118.4,712.4 L1119.8,710.3 L1121.3,708.3 L1122.8,706.3 L1124.3,704.3 L1125.8,702.3 L1127.4,700.4 L1129.0,698.5 L1130.6,696.6 L1132.3,694.8 L1133.9,693.0 L1135.6,691.3 L1137.4,689.6 L1139.2,688.0 L1141.0,686.4 L1142.8,684.9 L1144.7,683.4 L1146.6,681.9 L1148.5,680.5 L1150.5,679.2 L1152.5,678.0 L1154.6,676.8 L1156.7,675.6 L1158.8,674.6 L1161.0,673.5 L1163.3,672.6 L1165.5,671.8 L1167.8,671.1 L1170.1,670.4 L1172.4,669.9 L1174.7,669.5 L1177.1,669.2 L1179.4,669.1 L1181.7,669.1 L1184.1,669.2 L1186.4,669.5 L1188.7,670.0 L1191.0,670.7 L1193.3,671.5 L1195.5,672.6 L1197.7,673.8 L1199.9,675.2 L1202.1,676.8 L1204.2,678.5 L1206.3,680.3 L1208.5,682.2 L1210.6,684.1 L1212.7,685.9 L1214.9,687.7 L1217.0,689.4 L1219.2,691.0 L1221.5,692.4 L1223.7,693.7 L1226.0,694.7 L1228.3,695.7 L1230.6,696.5 L1233.0,697.1 L1235.3,697.6 L1237.7,697.9 L1240.0,698.0 L1242.4,698.0 L1244.7,697.9 L1247.0,697.6 L1249.3,697.2 L1251.5,696.6 L1253.8,695.9 L1256.0,695.0 L1258.1,694.0 L1260.2,692.9 L1262.3,691.6 L1264.3,690.2 L1266.3,688.6 L1268.2,687.0 L1270.1,685.3 L1272.0,683.5 L1273.9,681.6 L1275.7,679.7 L1277.4,677.8 L1279.2,675.8 L1281.0,673.8 L1282.7,671.9 L1284.4,669.9 L1286.1,667.9 L1287.8,665.9 L1289.4,663.9 L1291.1,662.0 L1292.7,660.0 L1294.4,658.0 L1296.0,656.0 L1297.6,654.0 L1299.1,652.1 L1300.7,650.1 L1302.3,648.1 L1303.8,646.1 L1305.3,644.1 L1306.9,642.1 L1308.4,640.1 L1309.9,638.1 L1311.3,636.1 L1312.8,634.1 L1314.3,632.1 L1315.7,630.1 L1317.1,628.1 L1318.6,626.1 L1320.0,624.1 L1321.4,622.1 L1322.8,620.0 L1324.2,618.0 L1325.5,616.0 L1326.9,613.9 L1328.2,611.9 L1329.6,609.8 L1330.9,607.8 L1332.2,605.7 L1333.5,603.7 L1334.9,601.6 L1336.1,599.5 L1337.4,597.4 L1338.7,595.3 L1340.0,593.2 L1341.3,591.1 L1342.5,589.0 L1343.8,586.9 L1345.0,584.8 L1346.2,582.6 L1347.4,580.5 L1348.7,578.4 L1349.9,576.2 L1351.1,574.1 L1352.3,571.9 L1353.5,569.8 L1354.6,567.6 L1355.8,565.4 L1357.0,563.2 L1358.2,561.0 L1359.3,558.9 L1360.5,556.7 L1361.6,554.5 L1362.7,552.3 L1363.9,550.0 L1365.0,547.8 L1366.1,545.6 L1367.2,543.4 L1368.3,541.2 L1369.4,538.9 L1370.5,536.7 L1371.6,534.5 L1372.7,532.2 L1373.8,530.0 L1374.9,527.7 L1375.9,525.5 L1377.0,523.2 L1378.1,520.9 L1379.1,518.7 L1380.2,516.4 L1381.2,514.1 L1382.3,511.8 L1383.3,509.6 L1384.4,507.3 L1385.4,505.0 L1386.4,502.7 L1387.5,500.4 L1388.5,498.1 L1389.5,495.8 L1390.5,493.5 L1391.5,491.2 L1392.5,488.9 L1393.5,486.6 L1394.6,484.3 L1395.6,482.0 L1396.6,479.6 L1397.6,477.3 L1398.5,475.0 L1399.5,472.7 L1400.5,470.4 L1401.5,468.0 L1402.5,465.7 L1403.5,463.4 L1404.5,461.1 L1405.5,458.7 L1406.4,456.4 L1407.4,454.1 L1408.4,451.7 L1409.4,449.4 L1410.3,447.1 L1411.3,444.7 L1412.3,442.4 L1413.3,440.0 L1414.2,437.7 L1415.2,435.4 L1416.2,433.0 L1417.1,430.7 L1418.1,428.3 L1419.1,426.0 L1420.0,423.7 L1421.0,421.3 L1422.0,419.0 L1423.0,416.6 L1423.9,414.3 L1424.9,411.9 L1425.9,409.6 L1426.8,407.3 L1427.8,404.9 L1428.8,402.6 L1429.8,400.2 L1430.7,397.9 L1431.7,395.6 L1432.7,393.2 L1433.7,390.9 L1434.7,388.6 L1435.6,386.2 L1436.6,383.9 L1437.6,381.6 L1438.6,379.3 L1439.6,376.9 L1440.6,374.6 L1441.6,372.3 L1442.6,370.0 L1443.6,367.6 L1444.6,365.3 L1445.6,363.0 L1446.6,360.7 L1447.6,358.4 L1448.7,356.1 L1449.7,353.8 L1450.7,351.5 L1451.7,349.2 L1452.8,346.9 L1453.8,344.6 L1454.8,342.3 L1455.9,340.0 L1456.9,337.7 L1458.0,335.4 L1459.0,333.1 L1460.1,330.9 L1461.1,328.6 L1462.2,326.3 L1463.3,324.1 L1464.4,321.8 L1465.4,319.5 L1466.5,317.3 L1467.6,315.0 L1468.7,312.8 L1469.8,310.5 L1470.9,308.3 L1472.0,306.1 L1473.2,303.8 L1474.3,301.6 L1475.4,299.4 L1476.6,297.2 L1477.7,294.9 L1478.8,292.7 L1480.0,290.5 L1481.2,288.3 L1482.3,286.1 L1483.5,284.0 L1484.7,281.8 L1485.9,279.6 L1487.1,277.4 L1488.3,275.3 L1489.5,273.1 L1490.7,270.9 L1491.9,268.8 L1493.2,266.6 L1494.4,264.5 L1495.6,262.4 L1496.9,260.2 L1498.2,258.1 L1499.4,256.0 L1500.7,253.9 L1502.0,251.8 L1503.3,249.7 L1504.6,247.6 L1505.9,245.5 L1507.2,243.4 L1508.6,241.4 L1509.9,239.3 L1511.3,237.3 L1512.6,235.2 L1514.0,233.2 L1515.4,231.1 L1516.7,229.1 L1518.1,227.1 L1519.5,225.1 L1521.0,223.1 L1522.4,221.1 L1523.8,219.1 L1525.3,217.1 L1526.7,215.1 L1528.2,213.2 L1529.7,211.2 L1531.2,209.2 L1532.6,207.3 L1534.2,205.4 L1535.7,203.4 L1537.2,201.5 L1538.7,199.6 L1540.3,197.7 L1541.9,195.8 L1543.4,193.9 L1545.0,192.1 L1546.6,190.2 L1548.2,188.3 L1549.9,186.5 L1551.5,184.7 L1553.1,182.8 L1554.8,181.0 L1556.5,179.2 L1558.1,177.4 L1559.8,175.6 L1561.5,173.8 L1563.3,172.1 L1565.0,170.3 L1566.7,168.5 L1568.5,166.8 L1570.3,165.1 L1572.0,163.3 L1573.8,161.6 L1575.6,159.9 L1577.4,158.2 L1579.3,156.6 L1581.1,154.9 L1582.9,153.2 L1584.8,151.6 L1586.7,149.9 L1588.5,148.3 L1590.4,146.6 L1592.3,145.0 L1594.2,143.4 L1596.1,141.8 L1598.1,140.2 L1600.0,138.7 L1602.0,137.1 L1603.9,135.5 L1605.9,134.0 L1607.8,132.4 L1609.8,130.9 L1611.8,129.4 L1613.8,127.9 L1615.8,126.4 L1617.9,124.9 L1619.9,123.4 L1621.9,121.9 L1624.0,120.5 L1626.0,119.0 L1628.1,117.6 L1630.1,116.1 L1632.2,114.7 L1634.3,113.3 L1636.4,111.9 L1638.5,110.5 L1640.6,109.1 L1642.7,107.8 L1644.8,106.4 L1647.0,105.0 L1649.1,103.7 L1651.3,102.4 L1653.4,101.0 L1655.6,99.7 L1657.7,98.4 L1659.9,97.1 L1662.1,95.8 L1664.3,94.6 L1666.4,93.3 L1668.6,92.0 L1670.8,90.8 L1673.0,89.6 L1675.3,88.3 L1677.5,87.1 L1679.7,85.9 L1681.9,84.7 L1684.2,83.5 L1686.4,82.4 L1688.6,81.2 L1690.9,80.0 L1693.1,78.9 L1695.4,77.8 L1697.6,76.6 L1699.9,75.5 L1702.2,74.4 L1704.5,73.3 L1706.7,72.2 L1709.0,71.2 L1711.3,70.1 L1713.6,69.0 L1715.9,68.0 L1718.2,67.0 L1720.5,65.9 L1722.8,64.9 L1725.1,63.9 L1727.4,62.9 L1729.7,61.9 L1732.0,61.0 L1734.3,60.0 L1736.6,59.0 L1739.0,58.1 L1741.3,57.2 L1743.6,56.2 L1745.9,55.3 L1748.3,54.4 L1750.6,53.5 L1752.9,52.6 L1755.3,51.8 L1757.6,50.9 L1759.9,50.0 L1762.3,49.2 L1764.6,48.4 L1767.0,47.5 L1769.3,46.7 L1771.6,45.9 L1774.0,45.1 L1776.3,44.3 L1778.7,43.6 L1781.0,42.8 L1783.3,42.1 L1785.7,41.3 L1788.0,40.6 L1790.4,39.9 L1792.7,39.2 L1795.1,38.5 L1797.4,37.8 L1799.7,37.1 L1802.1,36.4 L1804.4,35.7 L1806.8,35.1 L1809.1,34.5 L1811.4,33.8 L1813.8,33.2 L1816.1,32.6 L1818.4,32.0 L1820.8,31.4 L1823.1,30.8" stroke="#35a06b" stroke-width="3.6"/>
</g>
<line x1="421.2" y1="563.7" x2="421.2" y2="590.0" stroke="#1a1a1a" stroke-width="1.7"/>
<line x1="727.8" y1="1314.2" x2="727.8" y2="1339.0" stroke="#1a1a1a" stroke-width="1.7"/>
<line x1="779.0" y1="1043.6" x2="779.0" y2="1058.0" stroke="#1a1a1a" stroke-width="1.7"/>
<line x1="933.9" y1="1060.8" x2="933.9" y2="1076.0" stroke="#1a1a1a" stroke-width="1.7"/>
<line x1="1072.9" y1="744.6" x2="1072.9" y2="769.6" stroke="#1a1a1a" stroke-width="1.7"/>
<line x1="1087.8" y1="1323.9" x2="1087.8" y2="1349.0" stroke="#1a1a1a" stroke-width="1.7"/>
<line x1="1112.5" y1="877.5" x2="1112.5" y2="896.0" stroke="#1a1a1a" stroke-width="1.7"/>
<line x1="1265.6" y1="815.8" x2="1265.6" y2="836.0" stroke="#1a1a1a" stroke-width="1.7"/>
<line x1="1265.6" y1="909.8" x2="1265.6" y2="935.8" stroke="#1a1a1a" stroke-width="1.7"/>
<line x1="1292.5" y1="509.5" x2="1292.5" y2="536.1" stroke="#1a1a1a" stroke-width="1.7"/>
<line x1="1419.2" y1="1037.0" x2="1419.2" y2="1065.0" stroke="#1a1a1a" stroke-width="1.7"/>
<g transform="translate(433.0,652.8) rotate(-90)"><rect x="0" y="-34.4" width="63.4" height="42.4" fill="#fff"/><text x="0" y="0" font-size="38">981</text></g>
<g transform="translate(741.1,1403.0) rotate(-90)"><rect x="0" y="-34.4" width="63.4" height="42.4" fill="#fff"/><text x="0" y="0" font-size="38">957</text></g>
<g transform="translate(793.8,1121.1) rotate(-90)"><rect x="0" y="-34.4" width="63.4" height="42.4" fill="#fff"/><text x="0" y="0" font-size="38">954</text></g>
<g transform="translate(948.2,1138.5) rotate(-90)"><rect x="0" y="-34.4" width="63.4" height="42.4" fill="#fff"/><text x="0" y="0" font-size="38">942</text></g>
<g transform="translate(1086.5,835.1) rotate(-90)"><rect x="0" y="-34.4" width="63.4" height="42.4" fill="#fff"/><text x="0" y="0" font-size="38">931</text></g>
<g transform="translate(1099.8,1412.8) rotate(-90)"><rect x="0" y="-34.4" width="63.4" height="42.4" fill="#fff"/><text x="0" y="0" font-size="38">930</text></g>
<g transform="translate(1126.8,954.3) rotate(-90)"><rect x="0" y="-34.4" width="63.4" height="42.4" fill="#fff"/><text x="0" y="0" font-size="38">929</text></g>
<g transform="translate(1280.1,892.4) rotate(-90)"><rect x="0" y="-34.4" width="63.4" height="42.4" fill="#fff"/><text x="0" y="0" font-size="38">917</text></g>
<g transform="translate(1279.9,995.8) rotate(-90)"><rect x="0" y="-34.4" width="63.4" height="42.4" fill="#fff"/><text x="0" y="0" font-size="38">917</text></g>
<g transform="translate(1305.2,601.2) rotate(-90)"><rect x="0" y="-34.4" width="63.4" height="42.4" fill="#fff"/><text x="0" y="0" font-size="38">915</text></g>
<g transform="translate(1432.3,1126.8) rotate(-90)"><rect x="0" y="-34.4" width="63.4" height="42.4" fill="#fff"/><text x="0" y="0" font-size="38">905</text></g>
<rect x="164.7" y="25.3" width="1660.0" height="1562.7" fill="none" stroke="#000" stroke-width="4.6"/>
<line x1="164.7" y1="1588.0" x2="164.7" y2="1612.5" stroke="#000" stroke-width="4.4"/>
<line x1="496.7" y1="1588.0" x2="496.7" y2="1612.5" stroke="#000" stroke-width="4.4"/>
<line x1="828.7" y1="1588.0" x2="828.7" y2="1612.5" stroke="#000" stroke-width="4.4"/>
<line x1="1160.7" y1="1588.0" x2="1160.7" y2="1612.5" stroke="#000" stroke-width="4.4"/>
<line x1="1492.7" y1="1588.0" x2="1492.7" y2="1612.5" stroke="#000" stroke-width="4.4"/>
<line x1="1824.7" y1="1588.0" x2="1824.7" y2="1612.5" stroke="#000" stroke-width="4.4"/>
<line x1="330.7" y1="1588.0" x2="330.7" y2="1600" stroke="#000" stroke-width="4.4"/>
<line x1="662.7" y1="1588.0" x2="662.7" y2="1600" stroke="#000" stroke-width="4.4"/>
<line x1="994.7" y1="1588.0" x2="994.7" y2="1600" stroke="#000" stroke-width="4.4"/>
<line x1="1326.7" y1="1588.0" x2="1326.7" y2="1600" stroke="#000" stroke-width="4.4"/>
<line x1="1658.7" y1="1588.0" x2="1658.7" y2="1600" stroke="#000" stroke-width="4.4"/>
<text x="164.7" y="1696" text-anchor="middle" font-size="85">1000</text>
<text x="496.7" y="1696" text-anchor="middle" font-size="85">975</text>
<text x="828.7" y="1696" text-anchor="middle" font-size="85">950</text>
<text x="1160.7" y="1696" text-anchor="middle" font-size="85">925</text>
<text x="1492.7" y="1696" text-anchor="middle" font-size="85">900</text>
<text x="1824.7" y="1696" text-anchor="middle" font-size="85">875</text>
<text x="613" y="1807" font-size="85.6">Wavenumber (cm<tspan font-size="58" dx="-4" dy="-27">&#8722;</tspan><tspan font-size="58" dy="-6">1</tspan><tspan dx="2" dy="33">)</tspan></text>
<text transform="translate(102,1072) rotate(-90)" x="0" y="0" font-size="84">Intensity (a.u.)</text>
<line x1="1315" y1="1217.7" x2="1505.7" y2="1217.7" stroke="#424242" stroke-width="3.6"/>
<text x="1526" y="1245.7" font-size="85">B15C5</text>
<line x1="1315" y1="1311.9" x2="1505.7" y2="1311.9" stroke="#e4403f" stroke-width="3.6"/>
<text x="1526" y="1339.9" font-size="85">(I)</text>
<line x1="1315" y1="1406.1" x2="1505.7" y2="1406.1" stroke="#2c6ad4" stroke-width="3.6"/>
<text x="1526" y="1434.1" font-size="85">(II)</text>
<line x1="1315" y1="1500.3" x2="1505.7" y2="1500.3" stroke="#35a06b" stroke-width="3.6"/>
<text x="1526" y="1528.3" font-size="85">(III)</text>
</g></svg></div></body></html>
